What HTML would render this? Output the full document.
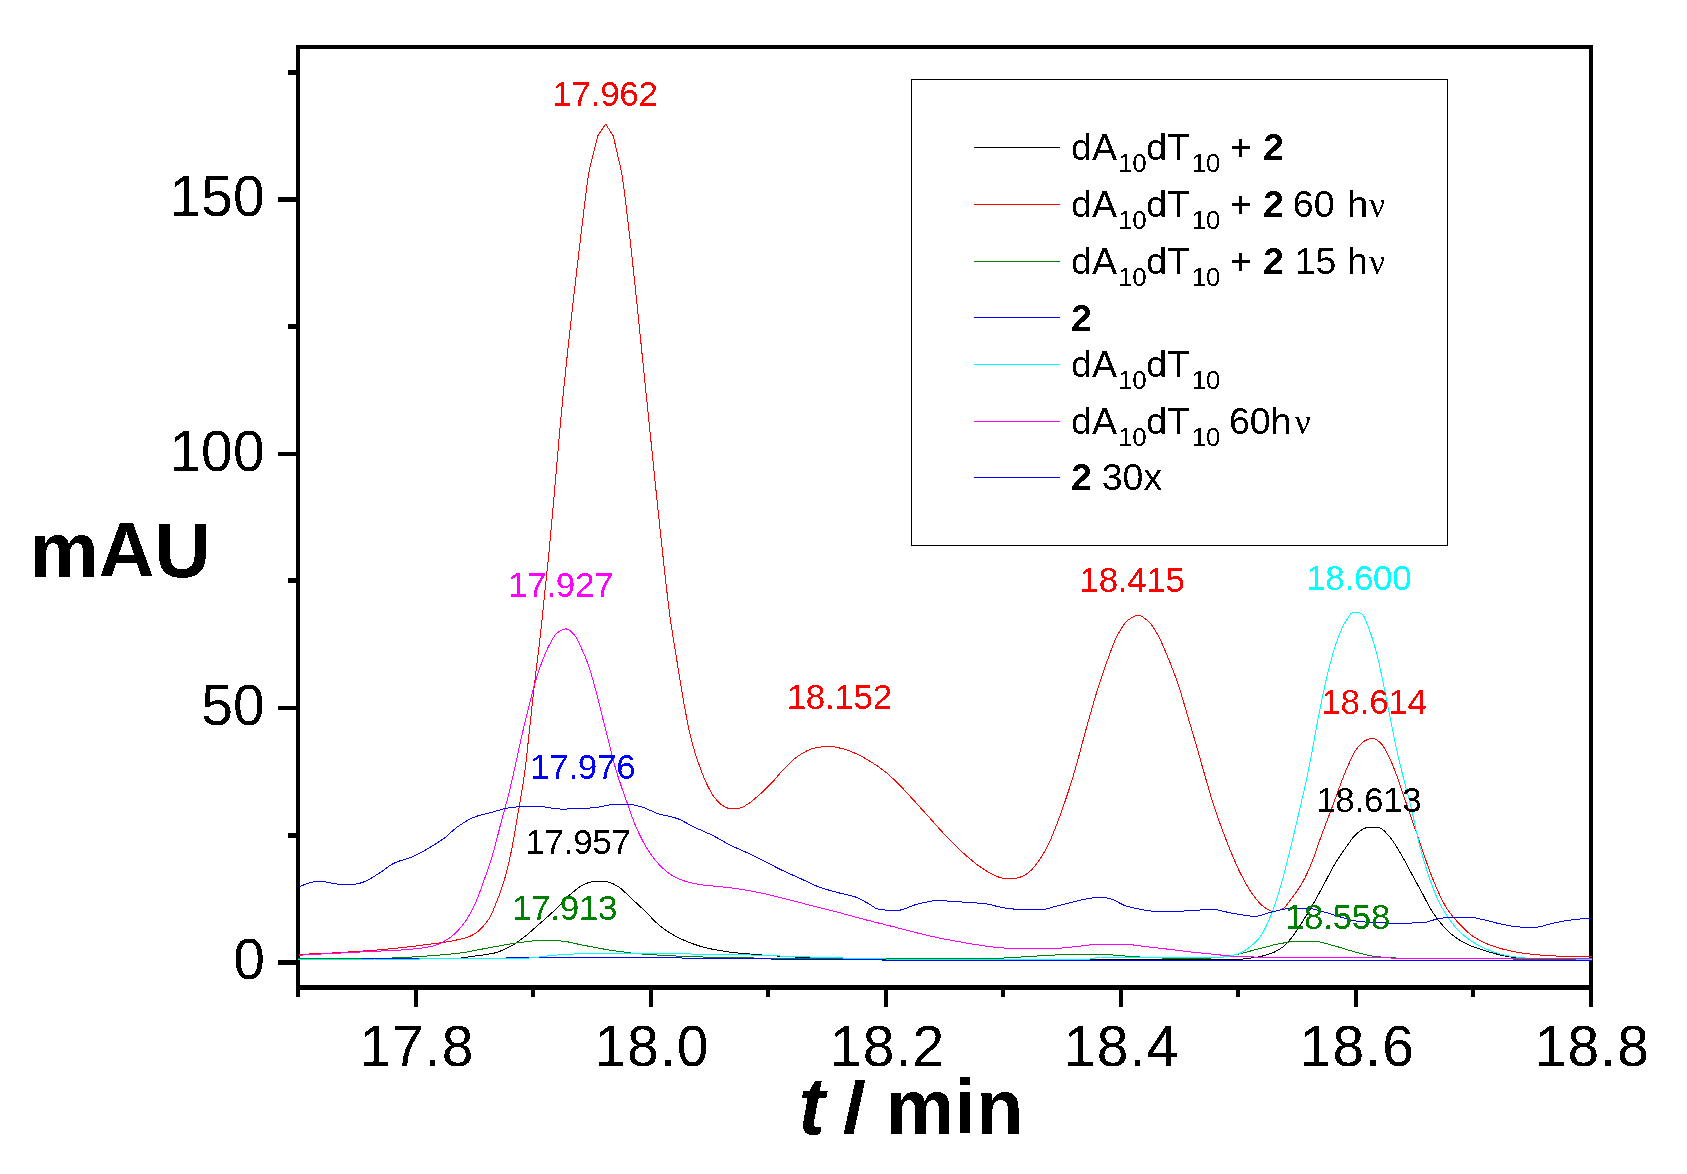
<!DOCTYPE html>
<html lang="en">
<head>
<meta charset="utf-8">
<title>HPLC chromatogram</title>
<style>
html,body{margin:0;padding:0;background:#fff;}
body{width:1687px;height:1174px;overflow:hidden;}
svg{display:block;}
text{font-family:"Liberation Sans",sans-serif;font-kerning:none;}
.ytick{font-size:57px;letter-spacing:0.2px;}
.xtick{font-size:57px;letter-spacing:1.1px;}
.pk{font-size:35px;letter-spacing:-0.3px;}
.lg{font-size:37.5px;}
.lgb{font-size:37.5px;font-weight:bold;}
.sub{font-size:26px;letter-spacing:-0.3px;}
.nu{font-size:35px;font-family:"Liberation Serif",serif;}
.ttl{font-size:77.5px;font-weight:bold;}
.ttl2{font-size:77px;font-weight:bold;letter-spacing:0.4px;}
.ttli{font-size:77px;font-weight:bold;font-style:italic;}
</style>
</head>
<body>
<svg width="1687" height="1174" viewBox="0 0 1687 1174">
<rect x="0" y="0" width="1687" height="1174" fill="#ffffff"/>
<defs>
<filter id="crisp" x="0" y="0" width="1687" height="1174" filterUnits="userSpaceOnUse" color-interpolation-filters="sRGB">
<feComponentTransfer><feFuncA type="discrete" tableValues="0 0 1 1"/></feComponentTransfer>
</filter>
</defs>
<g fill="#000" shape-rendering="crispEdges">
<rect x="296" y="45" width="1297" height="4"/>
<rect x="296" y="985" width="1297" height="5"/>
<rect x="296" y="45" width="4" height="945"/>
<rect x="1589" y="45" width="4" height="945"/>
<rect x="278" y="960" width="18" height="5"/>
<rect x="288" y="833" width="8" height="5"/>
<rect x="278" y="706" width="18" height="4"/>
<rect x="288" y="578" width="8" height="5"/>
<rect x="278" y="452" width="18" height="4"/>
<rect x="288" y="324" width="8" height="5"/>
<rect x="278" y="197" width="18" height="5"/>
<rect x="288" y="70" width="8" height="5"/>
<rect x="296" y="990" width="4" height="7"/>
<rect x="414" y="990" width="4" height="17"/>
<rect x="531" y="990" width="4" height="7"/>
<rect x="649" y="990" width="4" height="17"/>
<rect x="766" y="990" width="4" height="7"/>
<rect x="884" y="990" width="4" height="17"/>
<rect x="1001" y="990" width="4" height="7"/>
<rect x="1119" y="990" width="4" height="17"/>
<rect x="1236" y="990" width="4" height="7"/>
<rect x="1354" y="990" width="4" height="17"/>
<rect x="1471" y="990" width="4" height="7"/>
<rect x="1589" y="990" width="4" height="17"/>
</g>
<g fill="none" stroke-width="1" shape-rendering="crispEdges" stroke-linejoin="round">
<polyline stroke="#000000" points="298.0,958.5 299.5,958.5 301.0,958.5 302.5,958.5 304.0,958.5 305.5,958.5 307.0,958.5 308.5,958.5 310.0,958.5 311.5,958.5 313.0,958.5 314.5,958.5 316.0,958.5 317.5,958.5 319.0,958.5 320.5,958.5 322.0,958.5 323.5,958.5 325.0,958.5 326.5,958.5 328.0,958.5 329.5,958.5 331.0,958.5 332.5,958.5 334.0,958.5 335.5,958.5 337.0,958.5 338.5,958.5 340.0,958.5 341.5,958.5 343.0,958.5 344.5,958.5 346.0,958.5 347.5,958.5 349.0,958.5 350.5,958.5 352.0,958.5 353.5,958.5 355.0,958.5 356.5,958.5 358.0,958.5 359.5,958.5 361.0,958.5 362.5,958.5 364.0,958.5 365.5,958.5 367.0,958.5 368.5,958.5 370.0,958.5 371.5,958.5 373.0,958.5 374.5,958.5 376.0,958.5 377.5,958.4 379.0,958.4 380.5,958.4 382.0,958.4 383.5,958.4 385.0,958.4 386.5,958.4 388.0,958.4 389.5,958.4 391.0,958.4 392.5,958.4 394.0,958.4 395.5,958.4 397.0,958.4 398.5,958.4 400.0,958.4 401.5,958.4 403.0,958.4 404.5,958.4 406.0,958.4 407.5,958.4 409.0,958.4 410.5,958.4 412.0,958.4 413.5,958.4 415.0,958.4 416.5,958.4 418.0,958.4 419.5,958.4 421.0,958.3 422.5,958.3 424.0,958.3 425.5,958.3 427.0,958.3 428.5,958.3 430.0,958.3 431.5,958.3 433.0,958.3 434.5,958.3 436.0,958.3 437.5,958.3 439.0,958.3 440.5,958.3 442.0,958.3 443.5,958.3 445.0,958.3 446.5,958.2 448.0,958.2 449.5,958.2 451.0,958.2 452.5,958.2 454.0,958.2 455.5,958.2 457.0,958.2 458.5,958.2 460.0,958.1 461.5,958.0 463.0,957.8 464.5,957.6 466.0,957.4 467.5,957.1 469.0,956.9 470.5,956.7 472.0,956.4 473.5,956.2 475.0,956.0 476.5,955.8 478.0,955.6 479.5,955.4 481.0,955.2 482.5,955.1 484.0,954.9 485.5,954.7 487.0,954.4 488.5,954.2 490.0,953.9 491.5,953.7 493.0,953.4 494.5,953.0 496.0,952.6 497.5,952.1 499.0,951.6 500.5,951.0 502.0,950.4 503.5,949.7 505.0,949.0 506.5,948.3 508.0,947.6 509.5,946.8 511.0,946.0 512.5,945.2 514.0,944.3 515.5,943.4 517.0,942.4 518.5,941.3 520.0,940.2 521.5,939.1 523.0,937.9 524.5,936.8 526.0,935.6 527.5,934.4 529.0,933.1 530.5,931.8 532.0,930.5 533.5,929.2 535.0,927.8 536.5,926.5 538.0,925.2 539.5,923.8 541.0,922.5 542.5,921.2 544.0,919.9 545.5,918.5 547.0,917.2 548.5,915.9 550.0,914.5 551.5,913.1 553.0,911.8 554.5,910.3 556.0,908.9 557.5,907.4 559.0,905.9 560.5,904.3 562.0,902.7 563.5,901.1 565.0,899.5 566.5,898.0 568.0,896.5 569.5,895.1 571.0,893.8 572.5,892.6 574.0,891.3 575.5,890.1 577.0,888.9 578.5,887.8 580.0,886.7 581.5,885.7 583.0,884.8 584.5,884.1 586.0,883.5 587.5,883.0 589.0,882.6 590.5,882.1 592.0,881.8 593.5,881.5 595.0,881.3 596.5,881.3 598.0,881.3 599.5,881.4 601.0,881.4 602.5,881.5 604.0,881.6 605.5,881.7 607.0,881.8 608.5,882.1 610.0,882.5 611.5,883.1 613.0,883.8 614.5,884.6 616.0,885.5 617.5,886.3 619.0,887.2 620.5,888.3 622.0,889.5 623.5,890.9 625.0,892.3 626.5,893.7 628.0,895.2 629.5,896.6 631.0,898.1 632.5,899.4 634.0,900.8 635.5,902.2 637.0,903.6 638.5,905.0 640.0,906.4 641.5,907.8 643.0,909.2 644.5,910.7 646.0,912.1 647.5,913.6 649.0,915.1 650.5,916.7 652.0,918.3 653.5,919.9 655.0,921.4 656.5,922.8 658.0,924.2 659.5,925.4 661.0,926.7 662.5,927.8 664.0,929.0 665.5,930.1 667.0,931.1 668.5,932.1 670.0,933.0 671.5,933.9 673.0,934.8 674.5,935.6 676.0,936.4 677.5,937.2 679.0,937.9 680.5,938.6 682.0,939.3 683.5,940.0 685.0,940.6 686.5,941.3 688.0,941.9 689.5,942.5 691.0,943.1 692.5,943.6 694.0,944.2 695.5,944.7 697.0,945.2 698.5,945.7 700.0,946.2 701.5,946.6 703.0,947.0 704.5,947.4 706.0,947.8 707.5,948.1 709.0,948.4 710.5,948.8 712.0,949.1 713.5,949.4 715.0,949.7 716.5,950.0 718.0,950.2 719.5,950.5 721.0,950.8 722.5,951.0 724.0,951.2 725.5,951.5 727.0,951.7 728.5,951.9 730.0,952.1 731.5,952.3 733.0,952.4 734.5,952.6 736.0,952.8 737.5,952.9 739.0,953.1 740.5,953.2 742.0,953.4 743.5,953.5 745.0,953.6 746.5,953.8 748.0,953.9 749.5,954.0 751.0,954.1 752.5,954.3 754.0,954.4 755.5,954.5 757.0,954.6 758.5,954.7 760.0,954.8 761.5,954.9 763.0,955.1 764.5,955.2 766.0,955.3 767.5,955.4 769.0,955.5 770.5,955.6 772.0,955.7 773.5,955.8 775.0,955.9 776.5,956.0 778.0,956.1 779.5,956.2 781.0,956.3 782.5,956.4 784.0,956.5 785.5,956.5 787.0,956.6 788.5,956.7 790.0,956.8 791.5,956.8 793.0,956.9 794.5,957.0 796.0,957.0 797.5,957.1 799.0,957.2 800.5,957.2 802.0,957.3 803.5,957.4 805.0,957.4 806.5,957.5 808.0,957.6 809.5,957.6 811.0,957.7 812.5,957.8 814.0,957.8 815.5,957.9 817.0,957.9 818.5,958.0 820.0,958.0 821.5,958.1 823.0,958.2 824.5,958.2 826.0,958.3 827.5,958.3 829.0,958.3 830.5,958.4 832.0,958.4 833.5,958.5 835.0,958.5 836.5,958.5 838.0,958.6 839.5,958.6 841.0,958.6 842.5,958.7 844.0,958.7 845.5,958.7 847.0,958.7 848.5,958.7 850.0,958.7 851.5,958.8 853.0,958.8 854.5,958.8 856.0,958.8 857.5,958.8 859.0,958.8 860.5,958.8 862.0,958.9 863.5,958.9 865.0,958.9 866.5,958.9 868.0,958.9 869.5,958.9 871.0,958.9 872.5,958.9 874.0,959.0 875.5,959.0 877.0,959.0 878.5,959.0 880.0,959.0 881.5,959.0 883.0,959.0 884.5,959.0 886.0,959.1 887.5,959.1 889.0,959.1 890.5,959.1 892.0,959.1 893.5,959.1 895.0,959.1 896.5,959.1 898.0,959.1 899.5,959.2 901.0,959.2 902.5,959.2 904.0,959.2 905.5,959.2 907.0,959.2 908.5,959.2 910.0,959.2 911.5,959.2 913.0,959.2 914.5,959.2 916.0,959.3 917.5,959.3 919.0,959.3 920.5,959.3 922.0,959.3 923.5,959.3 925.0,959.3 926.5,959.3 928.0,959.3 929.5,959.3 931.0,959.3 932.5,959.3 934.0,959.3 935.5,959.4 937.0,959.4 938.5,959.4 940.0,959.4 941.5,959.4 943.0,959.4 944.5,959.4 946.0,959.4 947.5,959.4 949.0,959.4 950.5,959.4 952.0,959.4 953.5,959.4 955.0,959.4 956.5,959.4 958.0,959.4 959.5,959.4 961.0,959.4 962.5,959.5 964.0,959.5 965.5,959.5 967.0,959.5 968.5,959.5 970.0,959.5 971.5,959.5 973.0,959.5 974.5,959.5 976.0,959.5 977.5,959.5 979.0,959.5 980.5,959.5 982.0,959.5 983.5,959.5 985.0,959.5 986.5,959.5 988.0,959.5 989.5,959.5 991.0,959.5 992.5,959.5 994.0,959.5 995.5,959.5 997.0,959.5 998.5,959.5 1000.0,959.5 1001.5,959.5 1003.0,959.5 1004.5,959.5 1006.0,959.5 1007.5,959.5 1009.0,959.5 1010.5,959.5 1012.0,959.5 1013.5,959.5 1015.0,959.5 1016.5,959.5 1018.0,959.5 1019.5,959.5 1021.0,959.5 1022.5,959.5 1024.0,959.5 1025.5,959.5 1027.0,959.5 1028.5,959.5 1030.0,959.5 1031.5,959.5 1033.0,959.5 1034.5,959.5 1036.0,959.5 1037.5,959.5 1039.0,959.5 1040.5,959.5 1042.0,959.5 1043.5,959.5 1045.0,959.5 1046.5,959.5 1048.0,959.5 1049.5,959.5 1051.0,959.5 1052.5,959.5 1054.0,959.5 1055.5,959.5 1057.0,959.5 1058.5,959.5 1060.0,959.5 1061.5,959.5 1063.0,959.5 1064.5,959.5 1066.0,959.5 1067.5,959.5 1069.0,959.5 1070.5,959.5 1072.0,959.5 1073.5,959.5 1075.0,959.5 1076.5,959.5 1078.0,959.5 1079.5,959.5 1081.0,959.5 1082.5,959.5 1084.0,959.5 1085.5,959.5 1087.0,959.5 1088.5,959.5 1090.0,959.5 1091.5,959.5 1093.0,959.5 1094.5,959.5 1096.0,959.5 1097.5,959.5 1099.0,959.5 1100.5,959.5 1102.0,959.5 1103.5,959.5 1105.0,959.5 1106.5,959.5 1108.0,959.5 1109.5,959.5 1111.0,959.5 1112.5,959.5 1114.0,959.5 1115.5,959.5 1117.0,959.5 1118.5,959.5 1120.0,959.5 1121.5,959.5 1123.0,959.5 1124.5,959.5 1126.0,959.5 1127.5,959.5 1129.0,959.5 1130.5,959.5 1132.0,959.5 1133.5,959.5 1135.0,959.5 1136.5,959.5 1138.0,959.5 1139.5,959.5 1141.0,959.5 1142.5,959.4 1144.0,959.4 1145.5,959.4 1147.0,959.4 1148.5,959.4 1150.0,959.4 1151.5,959.4 1153.0,959.4 1154.5,959.4 1156.0,959.4 1157.5,959.4 1159.0,959.4 1160.5,959.4 1162.0,959.4 1163.5,959.4 1165.0,959.4 1166.5,959.4 1168.0,959.4 1169.5,959.4 1171.0,959.4 1172.5,959.4 1174.0,959.4 1175.5,959.4 1177.0,959.4 1178.5,959.4 1180.0,959.4 1181.5,959.4 1183.0,959.4 1184.5,959.4 1186.0,959.4 1187.5,959.4 1189.0,959.4 1190.5,959.4 1192.0,959.4 1193.5,959.4 1195.0,959.4 1196.5,959.4 1198.0,959.4 1199.5,959.4 1201.0,959.4 1202.5,959.4 1204.0,959.4 1205.5,959.4 1207.0,959.4 1208.5,959.4 1210.0,959.4 1211.5,959.4 1213.0,959.4 1214.5,959.3 1216.0,959.3 1217.5,959.3 1219.0,959.3 1220.5,959.3 1222.0,959.3 1223.5,959.3 1225.0,959.3 1226.5,959.3 1228.0,959.3 1229.5,959.3 1231.0,959.3 1232.5,959.3 1234.0,959.3 1235.5,959.3 1237.0,959.3 1238.5,959.3 1240.0,959.2 1241.5,959.1 1243.0,959.0 1244.5,958.9 1246.0,958.7 1247.5,958.5 1249.0,958.3 1250.5,958.1 1252.0,957.9 1253.5,957.7 1255.0,957.5 1256.5,957.3 1258.0,957.0 1259.5,956.7 1261.0,956.4 1262.5,956.0 1264.0,955.6 1265.5,955.2 1267.0,954.8 1268.5,954.3 1270.0,953.8 1271.5,953.3 1273.0,952.7 1274.5,952.0 1276.0,951.2 1277.5,950.4 1279.0,949.5 1280.5,948.5 1282.0,947.5 1283.5,946.4 1285.0,945.1 1286.5,943.7 1288.0,942.0 1289.5,940.3 1291.0,938.4 1292.5,936.5 1294.0,934.6 1295.5,932.4 1297.0,930.2 1298.5,927.9 1300.0,925.5 1301.5,923.2 1303.0,920.8 1304.5,918.4 1306.0,916.0 1307.5,913.6 1309.0,911.1 1310.5,908.6 1312.0,906.0 1313.5,903.4 1315.0,900.8 1316.5,898.1 1318.0,895.4 1319.5,892.6 1321.0,889.8 1322.5,887.0 1324.0,884.2 1325.5,881.4 1327.0,878.6 1328.5,875.7 1330.0,872.9 1331.5,870.1 1333.0,867.3 1334.5,864.7 1336.0,862.2 1337.5,859.8 1339.0,857.4 1340.5,855.2 1342.0,852.9 1343.5,850.8 1345.0,848.7 1346.5,846.6 1348.0,844.5 1349.5,842.4 1351.0,840.3 1352.5,838.3 1354.0,836.4 1355.5,834.8 1357.0,833.5 1358.5,832.3 1360.0,831.2 1361.5,830.1 1363.0,829.1 1364.5,828.4 1366.0,827.8 1367.5,827.6 1369.0,827.6 1370.5,827.6 1372.0,827.6 1373.5,827.6 1375.0,827.6 1376.5,827.6 1378.0,827.6 1379.5,827.7 1381.0,828.3 1382.5,829.3 1384.0,830.6 1385.5,832.2 1387.0,833.8 1388.5,835.5 1390.0,837.1 1391.5,839.0 1393.0,841.1 1394.5,843.4 1396.0,845.8 1397.5,848.3 1399.0,850.8 1400.5,853.3 1402.0,855.9 1403.5,858.6 1405.0,861.3 1406.5,864.2 1408.0,867.0 1409.5,869.8 1411.0,872.5 1412.5,875.3 1414.0,878.0 1415.5,880.8 1417.0,883.5 1418.5,886.3 1420.0,889.0 1421.5,891.8 1423.0,894.6 1424.5,897.5 1426.0,900.4 1427.5,903.3 1429.0,906.1 1430.5,908.7 1432.0,911.1 1433.5,913.4 1435.0,915.6 1436.5,917.7 1438.0,919.7 1439.5,921.6 1441.0,923.4 1442.5,925.2 1444.0,926.8 1445.5,928.4 1447.0,930.0 1448.5,931.4 1450.0,932.9 1451.5,934.2 1453.0,935.5 1454.5,936.6 1456.0,937.7 1457.5,938.7 1459.0,939.7 1460.5,940.6 1462.0,941.5 1463.5,942.3 1465.0,943.1 1466.5,943.8 1468.0,944.5 1469.5,945.2 1471.0,945.9 1472.5,946.5 1474.0,947.0 1475.5,947.6 1477.0,948.1 1478.5,948.6 1480.0,949.1 1481.5,949.6 1483.0,950.1 1484.5,950.5 1486.0,951.0 1487.5,951.5 1489.0,952.0 1490.5,952.4 1492.0,952.8 1493.5,953.3 1495.0,953.7 1496.5,954.0 1498.0,954.4 1499.5,954.8 1501.0,955.1 1502.5,955.5 1504.0,955.8 1505.5,956.1 1507.0,956.4 1508.5,956.7 1510.0,956.9 1511.5,957.1 1513.0,957.2 1514.5,957.4 1516.0,957.5 1517.5,957.7 1519.0,957.8 1520.5,957.9 1522.0,958.1 1523.5,958.2 1525.0,958.3 1526.5,958.4 1528.0,958.5 1529.5,958.6 1531.0,958.7 1532.5,958.7 1534.0,958.8 1535.5,958.9 1537.0,958.9 1538.5,959.0 1540.0,959.0 1541.5,959.0 1543.0,959.1 1544.5,959.1 1546.0,959.1 1547.5,959.1 1549.0,959.2 1550.5,959.2 1552.0,959.2 1553.5,959.2 1555.0,959.2 1556.5,959.3 1558.0,959.3 1559.5,959.3 1561.0,959.3 1562.5,959.3 1564.0,959.3 1565.5,959.4 1567.0,959.4 1568.5,959.4 1570.0,959.4 1571.5,959.4 1573.0,959.4 1574.5,959.4 1576.0,959.5 1577.5,959.5 1579.0,959.5 1580.5,959.5 1582.0,959.5 1583.5,959.5 1585.0,959.5 1586.5,959.5 1588.0,959.5 1589.5,959.5 1591.0,959.5 1591.5,959.5"/>
<polyline stroke="#ff0000" points="298.7,954.3 300.2,954.3 301.7,954.2 303.2,954.2 304.7,954.1 306.2,954.1 307.7,954.0 309.2,954.0 310.7,953.9 312.2,953.9 313.7,953.8 315.2,953.8 316.7,953.7 318.2,953.6 319.7,953.6 321.2,953.5 322.7,953.4 324.2,953.3 325.7,953.3 327.2,953.2 328.7,953.1 330.2,953.0 331.7,953.0 333.2,952.9 334.7,952.8 336.2,952.7 337.7,952.6 339.2,952.5 340.7,952.5 342.2,952.4 343.7,952.3 345.2,952.2 346.7,952.1 348.2,952.0 349.7,951.9 351.2,951.8 352.7,951.7 354.2,951.6 355.7,951.5 357.2,951.4 358.7,951.3 360.2,951.2 361.7,951.1 363.2,951.0 364.7,950.9 366.2,950.8 367.7,950.7 369.2,950.6 370.7,950.5 372.2,950.4 373.7,950.2 375.2,950.1 376.7,950.0 378.2,949.9 379.7,949.8 381.2,949.6 382.7,949.5 384.2,949.4 385.7,949.2 387.2,949.1 388.7,948.9 390.2,948.8 391.7,948.7 393.2,948.5 394.7,948.3 396.2,948.2 397.7,948.0 399.2,947.9 400.7,947.7 402.2,947.6 403.7,947.4 405.2,947.2 406.7,947.0 408.2,946.9 409.7,946.7 411.2,946.5 412.7,946.3 414.2,946.2 415.7,946.0 417.2,945.8 418.7,945.6 420.2,945.4 421.7,945.2 423.2,945.0 424.7,944.9 426.2,944.7 427.7,944.5 429.2,944.3 430.7,944.1 432.2,943.9 433.7,943.7 435.2,943.5 436.7,943.3 438.2,943.1 439.7,942.9 441.2,942.7 442.7,942.5 444.2,942.2 445.7,942.0 447.2,941.8 448.7,941.5 450.2,941.2 451.7,941.0 453.2,940.7 454.7,940.4 456.2,940.1 457.7,939.7 459.2,939.4 460.7,939.1 462.2,938.7 463.7,938.3 465.2,937.9 466.7,937.5 468.2,936.9 469.7,936.3 471.2,935.7 472.7,934.9 474.2,934.1 475.7,933.2 477.2,932.1 478.7,930.7 480.2,929.2 481.7,927.7 483.2,926.1 484.7,924.5 486.2,922.7 487.7,920.7 489.2,918.5 490.7,915.8 492.2,912.6 493.7,909.1 495.2,905.4 496.7,901.7 498.2,897.9 499.7,893.9 501.2,889.7 502.7,885.3 504.2,880.4 505.7,875.0 507.2,869.2 508.7,863.0 510.2,856.4 511.7,849.3 513.2,841.4 514.7,832.9 516.2,824.1 517.7,815.3 519.2,806.6 520.7,797.9 522.2,788.9 523.7,779.2 525.2,768.5 526.7,755.9 528.2,741.8 529.7,727.7 531.2,714.0 532.7,700.3 534.2,686.8 535.7,673.7 537.2,661.4 538.7,649.4 540.2,636.9 541.7,623.0 543.2,607.8 544.7,592.9 546.2,579.0 547.7,564.9 549.2,549.8 550.7,533.9 552.2,517.3 553.7,500.3 555.2,483.1 556.7,465.8 558.2,448.6 559.7,431.7 561.2,415.3 562.7,399.6 564.2,384.6 565.7,370.0 567.2,355.8 568.7,341.9 570.2,328.2 571.7,314.8 573.2,301.5 574.7,288.3 576.2,275.2 577.7,262.2 579.2,249.5 580.7,237.0 582.2,224.8 583.7,212.1 585.2,199.2 586.7,187.0 588.2,176.2 589.7,168.5 591.2,162.4 592.7,156.3 594.2,150.2 595.7,144.1 597.2,138.0 597.7,136.0 598.7,134.5 600.2,132.2 601.7,130.0 603.2,127.8 604.7,125.5 605.7,124.0 606.2,124.8 607.7,127.2 609.2,129.5 610.7,131.9 612.2,134.3 613.3,136.0 613.7,137.7 615.2,144.3 616.7,150.8 618.2,157.4 619.7,163.9 621.2,170.5 622.7,179.6 624.2,190.7 625.7,202.8 627.2,215.5 628.7,228.1 630.2,241.0 631.7,254.4 633.2,268.2 634.7,282.1 636.2,296.4 637.7,310.9 639.2,325.6 640.7,340.4 642.2,355.3 643.7,370.1 645.2,384.8 646.7,399.3 648.2,413.9 649.7,428.6 651.2,443.3 652.7,458.1 654.2,472.8 655.7,487.4 657.2,501.9 658.7,516.3 660.2,530.5 661.7,544.5 663.2,558.2 664.7,571.8 666.2,585.4 667.7,598.5 669.2,610.7 670.7,621.6 672.2,631.6 673.7,641.1 675.2,650.3 676.7,659.6 678.2,669.0 679.7,678.3 681.2,687.5 682.7,696.4 684.2,704.7 685.7,712.9 687.2,720.9 688.7,728.4 690.2,735.2 691.7,741.2 693.2,746.6 694.7,751.7 696.2,756.4 697.7,760.8 699.2,765.1 700.7,769.2 702.2,773.2 703.7,777.0 705.2,780.6 706.7,783.9 708.2,786.9 709.7,789.8 711.2,792.5 712.7,795.0 714.2,797.1 715.7,798.9 717.2,800.7 718.7,802.4 720.2,803.8 721.7,805.0 723.2,805.9 724.7,806.7 726.2,807.5 727.7,808.1 729.2,808.4 730.7,808.5 732.2,808.5 733.7,808.4 735.2,808.4 736.7,808.3 738.2,808.2 739.7,808.0 741.2,807.6 742.7,807.0 744.2,806.3 745.7,805.4 747.2,804.5 748.7,803.6 750.2,802.5 751.7,801.4 753.2,800.1 754.7,798.8 756.2,797.5 757.7,796.2 759.2,794.9 760.7,793.6 762.2,792.2 763.7,790.8 765.2,789.4 766.7,788.0 768.2,786.5 769.7,785.0 771.2,783.5 772.7,781.9 774.2,780.2 775.7,778.4 777.2,776.6 778.7,774.8 780.2,773.1 781.7,771.4 783.2,769.8 784.7,768.3 786.2,766.7 787.7,765.2 789.2,763.7 790.7,762.3 792.2,760.9 793.7,759.5 795.2,758.3 796.7,757.1 798.2,756.0 799.7,755.0 801.2,754.1 802.7,753.2 804.2,752.3 805.7,751.5 807.2,750.7 808.7,750.0 810.2,749.3 811.7,748.8 813.2,748.4 814.7,748.1 816.2,747.8 817.7,747.5 819.2,747.2 820.7,747.0 822.2,746.8 823.7,746.6 825.2,746.5 826.7,746.4 828.2,746.4 829.7,746.4 831.2,746.5 832.7,746.7 834.2,746.9 835.7,747.2 837.2,747.5 838.7,747.8 840.2,748.2 841.7,748.5 843.2,748.8 844.7,749.2 846.2,749.7 847.7,750.2 849.2,750.8 850.7,751.4 852.2,752.0 853.7,752.7 855.2,753.3 856.7,754.0 858.2,754.7 859.7,755.4 861.2,756.2 862.7,757.0 864.2,757.9 865.7,758.8 867.2,759.7 868.7,760.6 870.2,761.5 871.7,762.4 873.2,763.3 874.7,764.3 876.2,765.2 877.7,766.2 879.2,767.2 880.7,768.3 882.2,769.4 883.7,770.5 885.2,771.7 886.7,773.0 888.2,774.3 889.7,775.7 891.2,777.0 892.7,778.4 894.2,779.9 895.7,781.3 897.2,782.8 898.7,784.3 900.2,785.8 901.7,787.3 903.2,788.9 904.7,790.5 906.2,792.1 907.7,793.7 909.2,795.3 910.7,797.0 912.2,798.6 913.7,800.3 915.2,801.9 916.7,803.6 918.2,805.3 919.7,806.9 921.2,808.6 922.7,810.2 924.2,811.8 925.7,813.5 927.2,815.1 928.7,816.8 930.2,818.5 931.7,820.2 933.2,821.9 934.7,823.5 936.2,825.2 937.7,826.9 939.2,828.6 940.7,830.2 942.2,831.9 943.7,833.5 945.2,835.1 946.7,836.7 948.2,838.3 949.7,839.8 951.2,841.3 952.7,842.8 954.2,844.3 955.7,845.8 957.2,847.3 958.7,848.7 960.2,850.1 961.7,851.5 963.2,852.9 964.7,854.3 966.2,855.6 967.7,856.9 969.2,858.2 970.7,859.4 972.2,860.7 973.7,861.9 975.2,863.1 976.7,864.3 978.2,865.4 979.7,866.5 981.2,867.5 982.7,868.5 984.2,869.5 985.7,870.5 987.2,871.4 988.7,872.3 990.2,873.2 991.7,873.9 993.2,874.7 994.7,875.3 996.2,876.0 997.7,876.7 999.2,877.3 1000.7,877.8 1002.2,878.1 1003.7,878.2 1005.2,878.3 1006.7,878.3 1008.2,878.3 1009.7,878.4 1011.2,878.4 1012.7,878.4 1014.2,878.4 1015.7,878.3 1017.2,878.0 1018.7,877.6 1020.2,877.1 1021.7,876.6 1023.2,876.0 1024.7,875.2 1026.2,874.2 1027.7,873.1 1029.2,871.9 1030.7,870.7 1032.2,869.2 1033.7,867.5 1035.2,865.6 1036.7,863.6 1038.2,861.6 1039.7,859.4 1041.2,857.2 1042.7,854.8 1044.2,852.3 1045.7,849.7 1047.2,846.9 1048.7,843.9 1050.2,840.6 1051.7,837.1 1053.2,833.4 1054.7,829.6 1056.2,825.8 1057.7,821.9 1059.2,817.9 1060.7,813.8 1062.2,809.6 1063.7,805.3 1065.2,801.0 1066.7,796.5 1068.2,792.0 1069.7,787.3 1071.2,782.6 1072.7,777.7 1074.2,772.7 1075.7,767.6 1077.2,762.2 1078.7,756.7 1080.2,751.1 1081.7,745.4 1083.2,739.8 1084.7,734.2 1086.2,728.8 1087.7,723.4 1089.2,718.0 1090.7,712.7 1092.2,707.4 1093.7,702.2 1095.2,697.1 1096.7,692.3 1098.2,687.5 1099.7,682.8 1101.2,678.2 1102.7,673.7 1104.2,669.3 1105.7,665.0 1107.2,660.9 1108.7,656.8 1110.2,652.7 1111.7,648.6 1113.2,644.8 1114.7,641.1 1116.2,637.8 1117.7,634.9 1119.2,632.2 1120.7,629.6 1122.2,627.1 1123.7,624.9 1125.2,622.9 1126.7,621.2 1128.2,620.0 1129.7,619.0 1131.2,618.0 1132.7,617.1 1134.2,616.4 1135.7,615.9 1137.2,615.6 1138.7,615.5 1140.2,615.8 1141.7,616.4 1143.2,617.3 1144.7,618.3 1146.2,619.4 1147.7,620.6 1149.2,621.9 1150.7,623.6 1152.2,625.7 1153.7,628.0 1155.2,630.4 1156.7,633.0 1158.2,635.6 1159.7,638.5 1161.2,641.7 1162.7,645.0 1164.2,648.5 1165.7,652.1 1167.2,655.6 1168.7,659.3 1170.2,663.0 1171.7,666.8 1173.2,670.7 1174.7,674.7 1176.2,678.9 1177.7,683.1 1179.2,687.6 1180.7,692.3 1182.2,697.3 1183.7,702.4 1185.2,707.6 1186.7,712.8 1188.2,717.9 1189.7,723.0 1191.2,728.0 1192.7,733.0 1194.2,738.1 1195.7,743.1 1197.2,748.3 1198.7,753.5 1200.2,758.9 1201.7,764.3 1203.2,769.7 1204.7,774.9 1206.2,780.2 1207.7,785.4 1209.2,790.5 1210.7,795.6 1212.2,800.5 1213.7,805.2 1215.2,809.7 1216.7,814.1 1218.2,818.5 1219.7,822.7 1221.2,826.8 1222.7,830.9 1224.2,834.9 1225.7,838.8 1227.2,842.6 1228.7,846.3 1230.2,850.1 1231.7,853.7 1233.2,857.3 1234.7,860.9 1236.2,864.3 1237.7,867.6 1239.2,870.8 1240.7,873.8 1242.2,876.7 1243.7,879.6 1245.2,882.4 1246.7,885.1 1248.2,887.6 1249.7,890.1 1251.2,892.4 1252.7,894.5 1254.2,896.5 1255.7,898.4 1257.2,900.3 1258.7,902.0 1260.2,903.6 1261.7,905.1 1263.2,906.3 1264.7,907.4 1266.2,908.4 1267.7,909.4 1269.2,910.3 1270.7,910.9 1272.2,911.3 1273.7,911.3 1275.2,911.1 1276.7,910.8 1278.2,910.5 1279.7,910.0 1281.2,909.5 1282.7,908.8 1284.2,907.7 1285.7,906.2 1287.2,904.4 1288.7,902.4 1290.2,900.3 1291.7,898.2 1293.2,896.2 1294.7,894.2 1296.2,892.1 1297.7,890.0 1299.2,887.7 1300.7,885.3 1302.2,882.8 1303.7,880.2 1305.2,877.3 1306.7,874.2 1308.2,870.9 1309.7,867.5 1311.2,863.9 1312.7,860.2 1314.2,856.2 1315.7,852.0 1317.2,847.7 1318.7,843.3 1320.2,839.0 1321.7,834.8 1323.2,830.8 1324.7,826.8 1326.2,822.8 1327.7,818.9 1329.2,815.0 1330.7,811.0 1332.2,807.1 1333.7,803.0 1335.2,798.9 1336.7,794.8 1338.2,790.6 1339.7,786.5 1341.2,782.4 1342.7,778.5 1344.2,774.7 1345.7,771.1 1347.2,767.7 1348.7,764.3 1350.2,760.9 1351.7,757.6 1353.2,754.6 1354.7,751.8 1356.2,749.5 1357.7,747.6 1359.2,745.8 1360.7,744.1 1362.2,742.7 1363.7,741.5 1365.2,740.6 1366.7,739.9 1368.2,739.4 1369.7,738.9 1371.2,738.5 1372.7,738.4 1374.2,738.6 1375.7,739.2 1377.2,740.2 1378.7,741.3 1380.2,742.6 1381.7,744.2 1383.2,746.3 1384.7,748.7 1386.2,751.4 1387.7,754.1 1389.2,757.2 1390.7,760.5 1392.2,764.0 1393.7,767.7 1395.2,771.5 1396.7,775.5 1398.2,779.7 1399.7,784.0 1401.2,788.4 1402.7,792.8 1404.2,797.3 1405.7,801.7 1407.2,806.1 1408.7,810.4 1410.2,814.7 1411.7,819.0 1413.2,823.3 1414.7,827.6 1416.2,831.9 1417.7,836.2 1419.2,840.5 1420.7,844.8 1422.2,849.2 1423.7,853.7 1425.2,858.2 1426.7,862.6 1428.2,866.9 1429.7,871.1 1431.2,875.0 1432.7,878.8 1434.2,882.4 1435.7,886.0 1437.2,889.5 1438.7,892.8 1440.2,896.1 1441.7,899.2 1443.2,902.1 1444.7,904.9 1446.2,907.4 1447.7,909.7 1449.2,911.9 1450.7,913.9 1452.2,915.8 1453.7,917.6 1455.2,919.4 1456.7,921.0 1458.2,922.6 1459.7,924.2 1461.2,925.8 1462.7,927.3 1464.2,928.8 1465.7,930.2 1467.2,931.6 1468.7,932.9 1470.2,934.1 1471.7,935.3 1473.2,936.4 1474.7,937.4 1476.2,938.3 1477.7,939.2 1479.2,940.1 1480.7,940.9 1482.2,941.6 1483.7,942.3 1485.2,943.0 1486.7,943.7 1488.2,944.3 1489.7,944.9 1491.2,945.5 1492.7,946.0 1494.2,946.5 1495.7,947.0 1497.2,947.5 1498.7,947.9 1500.2,948.3 1501.7,948.8 1503.2,949.2 1504.7,949.5 1506.2,949.9 1507.7,950.3 1509.2,950.6 1510.7,950.9 1512.2,951.2 1513.7,951.5 1515.2,951.8 1516.7,952.1 1518.2,952.3 1519.7,952.6 1521.2,952.8 1522.7,953.1 1524.2,953.3 1525.7,953.5 1527.2,953.7 1528.7,953.9 1530.2,954.0 1531.7,954.2 1533.2,954.3 1534.7,954.5 1536.2,954.6 1537.7,954.8 1539.2,954.9 1540.7,955.1 1542.2,955.2 1543.7,955.3 1545.2,955.4 1546.7,955.5 1548.2,955.6 1549.7,955.7 1551.2,955.8 1552.7,955.9 1554.2,955.9 1555.7,956.0 1557.2,956.0 1558.7,956.1 1560.2,956.1 1561.7,956.2 1563.2,956.2 1564.7,956.2 1566.2,956.3 1567.7,956.3 1569.2,956.3 1570.7,956.4 1572.2,956.4 1573.7,956.4 1575.2,956.5 1576.7,956.5 1578.2,956.5 1579.7,956.5 1581.2,956.5 1582.7,956.6 1584.2,956.6 1585.7,956.6 1587.2,956.6 1588.7,956.6 1590.2,956.6 1591.5,956.6"/>
<polyline stroke="#008000" points="298.0,958.5 299.5,958.5 301.0,958.5 302.5,958.5 304.0,958.5 305.5,958.5 307.0,958.5 308.5,958.5 310.0,958.5 311.5,958.5 313.0,958.5 314.5,958.5 316.0,958.5 317.5,958.5 319.0,958.5 320.5,958.5 322.0,958.5 323.5,958.5 325.0,958.5 326.5,958.5 328.0,958.5 329.5,958.5 331.0,958.5 332.5,958.5 334.0,958.4 335.5,958.4 337.0,958.4 338.5,958.4 340.0,958.4 341.5,958.4 343.0,958.4 344.5,958.4 346.0,958.4 347.5,958.4 349.0,958.4 350.5,958.4 352.0,958.4 353.5,958.4 355.0,958.4 356.5,958.4 358.0,958.4 359.5,958.3 361.0,958.3 362.5,958.3 364.0,958.3 365.5,958.3 367.0,958.3 368.5,958.3 370.0,958.3 371.5,958.3 373.0,958.3 374.5,958.3 376.0,958.2 377.5,958.2 379.0,958.2 380.5,958.2 382.0,958.2 383.5,958.2 385.0,958.2 386.5,958.1 388.0,958.1 389.5,958.1 391.0,958.0 392.5,958.0 394.0,957.9 395.5,957.8 397.0,957.8 398.5,957.7 400.0,957.6 401.5,957.6 403.0,957.5 404.5,957.4 406.0,957.3 407.5,957.2 409.0,957.1 410.5,957.1 412.0,957.0 413.5,956.9 415.0,956.8 416.5,956.7 418.0,956.6 419.5,956.5 421.0,956.4 422.5,956.3 424.0,956.2 425.5,956.1 427.0,956.0 428.5,955.9 430.0,955.8 431.5,955.7 433.0,955.6 434.5,955.5 436.0,955.4 437.5,955.3 439.0,955.1 440.5,955.0 442.0,954.9 443.5,954.8 445.0,954.6 446.5,954.5 448.0,954.3 449.5,954.2 451.0,954.0 452.5,953.9 454.0,953.7 455.5,953.6 457.0,953.4 458.5,953.2 460.0,953.0 461.5,952.8 463.0,952.6 464.5,952.4 466.0,952.1 467.5,951.9 469.0,951.6 470.5,951.3 472.0,951.1 473.5,950.8 475.0,950.5 476.5,950.2 478.0,949.9 479.5,949.6 481.0,949.3 482.5,949.0 484.0,948.7 485.5,948.4 487.0,948.2 488.5,947.9 490.0,947.6 491.5,947.3 493.0,947.1 494.5,946.8 496.0,946.5 497.5,946.3 499.0,946.0 500.5,945.7 502.0,945.4 503.5,945.2 505.0,944.9 506.5,944.6 508.0,944.4 509.5,944.1 511.0,943.9 512.5,943.6 514.0,943.4 515.5,943.2 517.0,942.9 518.5,942.7 520.0,942.6 521.5,942.4 523.0,942.2 524.5,942.0 526.0,941.8 527.5,941.6 529.0,941.4 530.5,941.2 532.0,941.0 533.5,940.8 535.0,940.7 536.5,940.5 538.0,940.4 539.5,940.3 541.0,940.2 542.5,940.1 544.0,940.0 545.5,940.0 547.0,940.0 548.5,940.0 550.0,940.1 551.5,940.2 553.0,940.3 554.5,940.4 556.0,940.5 557.5,940.7 559.0,940.8 560.5,941.0 562.0,941.1 563.5,941.3 565.0,941.5 566.5,941.7 568.0,941.9 569.5,942.2 571.0,942.5 572.5,942.8 574.0,943.2 575.5,943.5 577.0,943.9 578.5,944.2 580.0,944.5 581.5,944.9 583.0,945.2 584.5,945.4 586.0,945.7 587.5,946.0 589.0,946.3 590.5,946.6 592.0,946.9 593.5,947.1 595.0,947.4 596.5,947.7 598.0,948.0 599.5,948.2 601.0,948.5 602.5,948.8 604.0,949.1 605.5,949.3 607.0,949.6 608.5,949.9 610.0,950.1 611.5,950.3 613.0,950.6 614.5,950.8 616.0,951.0 617.5,951.2 619.0,951.4 620.5,951.6 622.0,951.8 623.5,952.0 625.0,952.2 626.5,952.4 628.0,952.6 629.5,952.8 631.0,953.0 632.5,953.1 634.0,953.3 635.5,953.4 637.0,953.6 638.5,953.7 640.0,953.8 641.5,954.0 643.0,954.1 644.5,954.2 646.0,954.3 647.5,954.4 649.0,954.5 650.5,954.6 652.0,954.7 653.5,954.8 655.0,954.9 656.5,955.0 658.0,955.1 659.5,955.2 661.0,955.3 662.5,955.3 664.0,955.4 665.5,955.5 667.0,955.6 668.5,955.7 670.0,955.7 671.5,955.8 673.0,955.9 674.5,955.9 676.0,956.0 677.5,956.0 679.0,956.1 680.5,956.2 682.0,956.2 683.5,956.3 685.0,956.3 686.5,956.4 688.0,956.4 689.5,956.5 691.0,956.6 692.5,956.6 694.0,956.7 695.5,956.7 697.0,956.8 698.5,956.8 700.0,956.9 701.5,956.9 703.0,957.0 704.5,957.0 706.0,957.1 707.5,957.1 709.0,957.2 710.5,957.2 712.0,957.3 713.5,957.3 715.0,957.3 716.5,957.4 718.0,957.4 719.5,957.5 721.0,957.5 722.5,957.5 724.0,957.6 725.5,957.6 727.0,957.6 728.5,957.6 730.0,957.7 731.5,957.7 733.0,957.7 734.5,957.7 736.0,957.8 737.5,957.8 739.0,957.8 740.5,957.8 742.0,957.8 743.5,957.8 745.0,957.9 746.5,957.9 748.0,957.9 749.5,957.9 751.0,957.9 752.5,957.9 754.0,958.0 755.5,958.0 757.0,958.0 758.5,958.0 760.0,958.0 761.5,958.0 763.0,958.0 764.5,958.1 766.0,958.1 767.5,958.1 769.0,958.1 770.5,958.1 772.0,958.1 773.5,958.1 775.0,958.1 776.5,958.2 778.0,958.2 779.5,958.2 781.0,958.2 782.5,958.2 784.0,958.2 785.5,958.2 787.0,958.2 788.5,958.3 790.0,958.3 791.5,958.3 793.0,958.3 794.5,958.3 796.0,958.3 797.5,958.3 799.0,958.3 800.5,958.3 802.0,958.4 803.5,958.4 805.0,958.4 806.5,958.4 808.0,958.4 809.5,958.4 811.0,958.4 812.5,958.4 814.0,958.4 815.5,958.4 817.0,958.5 818.5,958.5 820.0,958.5 821.5,958.5 823.0,958.5 824.5,958.5 826.0,958.5 827.5,958.5 829.0,958.5 830.5,958.5 832.0,958.5 833.5,958.5 835.0,958.6 836.5,958.6 838.0,958.6 839.5,958.6 841.0,958.6 842.5,958.6 844.0,958.6 845.5,958.6 847.0,958.6 848.5,958.6 850.0,958.6 851.5,958.6 853.0,958.6 854.5,958.6 856.0,958.6 857.5,958.6 859.0,958.6 860.5,958.6 862.0,958.7 863.5,958.7 865.0,958.7 866.5,958.7 868.0,958.7 869.5,958.7 871.0,958.7 872.5,958.7 874.0,958.7 875.5,958.7 877.0,958.7 878.5,958.7 880.0,958.7 881.5,958.7 883.0,958.7 884.5,958.7 886.0,958.7 887.5,958.7 889.0,958.7 890.5,958.7 892.0,958.7 893.5,958.7 895.0,958.7 896.5,958.7 898.0,958.7 899.5,958.7 901.0,958.7 902.5,958.7 904.0,958.7 905.5,958.7 907.0,958.7 908.5,958.7 910.0,958.7 911.5,958.7 913.0,958.7 914.5,958.7 916.0,958.7 917.5,958.7 919.0,958.7 920.5,958.7 922.0,958.7 923.5,958.7 925.0,958.7 926.5,958.7 928.0,958.7 929.5,958.7 931.0,958.7 932.5,958.7 934.0,958.7 935.5,958.7 937.0,958.7 938.5,958.7 940.0,958.7 941.5,958.7 943.0,958.7 944.5,958.7 946.0,958.7 947.5,958.7 949.0,958.7 950.5,958.7 952.0,958.7 953.5,958.7 955.0,958.7 956.5,958.7 958.0,958.7 959.5,958.7 961.0,958.7 962.5,958.7 964.0,958.7 965.5,958.7 967.0,958.7 968.5,958.7 970.0,958.7 971.5,958.7 973.0,958.7 974.5,958.7 976.0,958.7 977.5,958.7 979.0,958.7 980.5,958.7 982.0,958.7 983.5,958.7 985.0,958.7 986.5,958.7 988.0,958.7 989.5,958.7 991.0,958.7 992.5,958.7 994.0,958.6 995.5,958.5 997.0,958.5 998.5,958.4 1000.0,958.3 1001.5,958.2 1003.0,958.1 1004.5,958.0 1006.0,957.9 1007.5,957.8 1009.0,957.7 1010.5,957.6 1012.0,957.5 1013.5,957.4 1015.0,957.3 1016.5,957.3 1018.0,957.2 1019.5,957.1 1021.0,957.0 1022.5,956.9 1024.0,956.8 1025.5,956.7 1027.0,956.6 1028.5,956.5 1030.0,956.4 1031.5,956.3 1033.0,956.2 1034.5,956.2 1036.0,956.1 1037.5,956.0 1039.0,955.9 1040.5,955.8 1042.0,955.7 1043.5,955.7 1045.0,955.6 1046.5,955.5 1048.0,955.4 1049.5,955.3 1051.0,955.2 1052.5,955.2 1054.0,955.1 1055.5,955.0 1057.0,954.9 1058.5,954.8 1060.0,954.7 1061.5,954.7 1063.0,954.6 1064.5,954.5 1066.0,954.5 1067.5,954.4 1069.0,954.4 1070.5,954.3 1072.0,954.3 1073.5,954.3 1075.0,954.3 1076.5,954.3 1078.0,954.3 1079.5,954.3 1081.0,954.3 1082.5,954.3 1084.0,954.3 1085.5,954.3 1087.0,954.3 1088.5,954.3 1090.0,954.3 1091.5,954.3 1093.0,954.3 1094.5,954.3 1096.0,954.3 1097.5,954.3 1099.0,954.3 1100.5,954.3 1102.0,954.4 1103.5,954.4 1105.0,954.5 1106.5,954.6 1108.0,954.7 1109.5,954.8 1111.0,954.9 1112.5,955.0 1114.0,955.1 1115.5,955.3 1117.0,955.4 1118.5,955.5 1120.0,955.6 1121.5,955.8 1123.0,955.9 1124.5,956.0 1126.0,956.1 1127.5,956.2 1129.0,956.3 1130.5,956.4 1132.0,956.5 1133.5,956.6 1135.0,956.7 1136.5,956.8 1138.0,956.9 1139.5,957.0 1141.0,957.1 1142.5,957.2 1144.0,957.3 1145.5,957.4 1147.0,957.5 1148.5,957.5 1150.0,957.6 1151.5,957.7 1153.0,957.7 1154.5,957.8 1156.0,957.8 1157.5,957.9 1159.0,957.9 1160.5,957.9 1162.0,958.0 1163.5,958.0 1165.0,958.0 1166.5,958.1 1168.0,958.1 1169.5,958.1 1171.0,958.1 1172.5,958.2 1174.0,958.2 1175.5,958.2 1177.0,958.2 1178.5,958.3 1180.0,958.3 1181.5,958.3 1183.0,958.3 1184.5,958.3 1186.0,958.4 1187.5,958.4 1189.0,958.4 1190.5,958.4 1192.0,958.4 1193.5,958.4 1195.0,958.4 1196.5,958.4 1198.0,958.4 1199.5,958.4 1201.0,958.4 1202.5,958.3 1204.0,958.3 1205.5,958.2 1207.0,958.2 1208.5,958.1 1210.0,958.1 1211.5,958.0 1213.0,957.9 1214.5,957.8 1216.0,957.7 1217.5,957.7 1219.0,957.6 1220.5,957.5 1222.0,957.3 1223.5,957.1 1225.0,956.9 1226.5,956.6 1228.0,956.3 1229.5,956.0 1231.0,955.7 1232.5,955.3 1234.0,955.0 1235.5,954.7 1237.0,954.3 1238.5,954.0 1240.0,953.7 1241.5,953.3 1243.0,952.9 1244.5,952.6 1246.0,952.2 1247.5,951.8 1249.0,951.4 1250.5,951.0 1252.0,950.6 1253.5,950.2 1255.0,949.8 1256.5,949.4 1258.0,949.1 1259.5,948.7 1261.0,948.3 1262.5,947.9 1264.0,947.5 1265.5,947.1 1267.0,946.7 1268.5,946.3 1270.0,945.9 1271.5,945.5 1273.0,945.1 1274.5,944.8 1276.0,944.5 1277.5,944.2 1279.0,943.9 1280.5,943.6 1282.0,943.3 1283.5,943.0 1285.0,942.7 1286.5,942.4 1288.0,942.2 1289.5,942.0 1291.0,941.9 1292.5,941.8 1294.0,941.7 1295.5,941.7 1297.0,941.7 1298.5,941.7 1300.0,941.7 1301.5,941.7 1303.0,941.7 1304.5,941.7 1306.0,941.7 1307.5,941.7 1309.0,941.7 1310.5,941.7 1312.0,941.7 1313.5,941.7 1315.0,941.7 1316.5,941.7 1318.0,941.8 1319.5,942.0 1321.0,942.2 1322.5,942.5 1324.0,942.9 1325.5,943.3 1327.0,943.7 1328.5,944.1 1330.0,944.6 1331.5,945.1 1333.0,945.5 1334.5,945.9 1336.0,946.3 1337.5,946.7 1339.0,947.2 1340.5,947.6 1342.0,948.1 1343.5,948.5 1345.0,949.0 1346.5,949.5 1348.0,949.9 1349.5,950.4 1351.0,950.8 1352.5,951.3 1354.0,951.7 1355.5,952.1 1357.0,952.5 1358.5,952.9 1360.0,953.3 1361.5,953.6 1363.0,954.0 1364.5,954.4 1366.0,954.8 1367.5,955.1 1369.0,955.4 1370.5,955.7 1372.0,956.0 1373.5,956.2 1375.0,956.4 1376.5,956.6 1378.0,956.7 1379.5,956.9 1381.0,957.0 1382.5,957.1 1384.0,957.3 1385.5,957.4 1387.0,957.5 1388.5,957.6 1390.0,957.7 1391.5,957.7 1393.0,957.8 1394.5,957.9 1396.0,958.0 1397.5,958.0 1399.0,958.1 1400.5,958.2 1402.0,958.2 1403.5,958.3 1405.0,958.3 1406.5,958.4 1408.0,958.5 1409.5,958.5 1411.0,958.5 1412.5,958.6 1414.0,958.6 1415.5,958.7 1417.0,958.7 1418.5,958.7 1420.0,958.7 1421.5,958.7 1423.0,958.7 1424.5,958.7 1426.0,958.7 1427.5,958.7 1429.0,958.7 1430.5,958.7 1432.0,958.7 1433.5,958.8 1435.0,958.8 1436.5,958.8 1438.0,958.8 1439.5,958.8 1441.0,958.8 1442.5,958.8 1444.0,958.8 1445.5,958.8 1447.0,958.8 1448.5,958.8 1450.0,958.8 1451.5,958.8 1453.0,958.8 1454.5,958.8 1456.0,958.8 1457.5,958.8 1459.0,958.8 1460.5,958.8 1462.0,958.8 1463.5,958.9 1465.0,958.9 1466.5,958.9 1468.0,958.9 1469.5,958.9 1471.0,958.9 1472.5,958.9 1474.0,958.9 1475.5,958.9 1477.0,958.9 1478.5,958.9 1480.0,958.9 1481.5,958.9 1483.0,958.9 1484.5,958.9 1486.0,958.9 1487.5,958.9 1489.0,958.9 1490.5,958.9 1492.0,958.9 1493.5,958.9 1495.0,958.9 1496.5,958.9 1498.0,958.9 1499.5,958.9 1501.0,958.9 1502.5,958.9 1504.0,958.9 1505.5,958.9 1507.0,958.9 1508.5,958.9 1510.0,958.9 1511.5,958.9 1513.0,959.0 1514.5,959.0 1516.0,959.0 1517.5,959.0 1519.0,959.0 1520.5,959.0 1522.0,959.0 1523.5,959.0 1525.0,959.0 1526.5,959.0 1528.0,959.0 1529.5,959.0 1531.0,959.0 1532.5,959.0 1534.0,959.0 1535.5,959.0 1537.0,959.0 1538.5,959.0 1540.0,959.0 1541.5,959.0 1543.0,959.0 1544.5,959.0 1546.0,959.0 1547.5,959.0 1549.0,959.0 1550.5,959.0 1552.0,959.0 1553.5,959.0 1555.0,959.0 1556.5,959.0 1558.0,959.0 1559.5,959.0 1561.0,959.0 1562.5,959.0 1564.0,959.0 1565.5,959.0 1567.0,959.0 1568.5,959.0 1570.0,959.0 1571.5,959.0 1573.0,959.0 1574.5,959.0 1576.0,959.0 1577.5,959.0 1579.0,959.0 1580.5,959.0 1582.0,959.0 1583.5,959.0 1585.0,959.0 1586.5,959.0 1588.0,959.0 1589.5,959.0 1591.0,959.0 1591.5,959.0"/>
<polyline stroke="#0000ff" points="298.0,959.5 299.5,959.5 301.0,959.5 302.5,959.5 304.0,959.4 305.5,959.4 307.0,959.4 308.5,959.4 310.0,959.4 311.5,959.4 313.0,959.4 314.5,959.4 316.0,959.3 317.5,959.3 319.0,959.3 320.5,959.3 322.0,959.3 323.5,959.3 325.0,959.3 326.5,959.3 328.0,959.2 329.5,959.2 331.0,959.2 332.5,959.2 334.0,959.2 335.5,959.2 337.0,959.2 338.5,959.2 340.0,959.1 341.5,959.1 343.0,959.1 344.5,959.1 346.0,959.1 347.5,959.1 349.0,959.1 350.5,959.1 352.0,959.0 353.5,959.0 355.0,959.0 356.5,959.0 358.0,959.0 359.5,959.0 361.0,959.0 362.5,959.0 364.0,958.9 365.5,958.9 367.0,958.9 368.5,958.9 370.0,958.9 371.5,958.9 373.0,958.9 374.5,958.9 376.0,958.9 377.5,958.8 379.0,958.8 380.5,958.8 382.0,958.8 383.5,958.8 385.0,958.8 386.5,958.8 388.0,958.8 389.5,958.7 391.0,958.7 392.5,958.7 394.0,958.7 395.5,958.7 397.0,958.7 398.5,958.7 400.0,958.7 401.5,958.7 403.0,958.6 404.5,958.6 406.0,958.6 407.5,958.6 409.0,958.6 410.5,958.6 412.0,958.6 413.5,958.6 415.0,958.6 416.5,958.5 418.0,958.5 419.5,958.5 421.0,958.5 422.5,958.5 424.0,958.5 425.5,958.5 427.0,958.5 428.5,958.5 430.0,958.5 431.5,958.4 433.0,958.4 434.5,958.4 436.0,958.4 437.5,958.4 439.0,958.4 440.5,958.4 442.0,958.4 443.5,958.4 445.0,958.4 446.5,958.3 448.0,958.3 449.5,958.3 451.0,958.3 452.5,958.3 454.0,958.3 455.5,958.3 457.0,958.3 458.5,958.3 460.0,958.3 461.5,958.2 463.0,958.2 464.5,958.2 466.0,958.2 467.5,958.2 469.0,958.2 470.5,958.2 472.0,958.2 473.5,958.2 475.0,958.2 476.5,958.1 478.0,958.1 479.5,958.1 481.0,958.1 482.5,958.1 484.0,958.1 485.5,958.1 487.0,958.1 488.5,958.1 490.0,958.1 491.5,958.1 493.0,958.0 494.5,958.0 496.0,958.0 497.5,958.0 499.0,958.0 500.5,958.0 502.0,958.0 503.5,958.0 505.0,958.0 506.5,958.0 508.0,957.9 509.5,957.9 511.0,957.9 512.5,957.9 514.0,957.9 515.5,957.9 517.0,957.9 518.5,957.9 520.0,957.9 521.5,957.9 523.0,957.8 524.5,957.8 526.0,957.8 527.5,957.8 529.0,957.8 530.5,957.8 532.0,957.8 533.5,957.8 535.0,957.8 536.5,957.8 538.0,957.7 539.5,957.7 541.0,957.7 542.5,957.7 544.0,957.7 545.5,957.7 547.0,957.7 548.5,957.7 550.0,957.7 551.5,957.7 553.0,957.6 554.5,957.6 556.0,957.6 557.5,957.6 559.0,957.6 560.5,957.6 562.0,957.6 563.5,957.6 565.0,957.6 566.5,957.6 568.0,957.6 569.5,957.6 571.0,957.6 572.5,957.5 574.0,957.5 575.5,957.5 577.0,957.5 578.5,957.5 580.0,957.5 581.5,957.5 583.0,957.5 584.5,957.5 586.0,957.5 587.5,957.5 589.0,957.5 590.5,957.5 592.0,957.5 593.5,957.5 595.0,957.5 596.5,957.5 598.0,957.5 599.5,957.5 601.0,957.5 602.5,957.5 604.0,957.5 605.5,957.5 607.0,957.5 608.5,957.5 610.0,957.5 611.5,957.5 613.0,957.5 614.5,957.5 616.0,957.5 617.5,957.5 619.0,957.5 620.5,957.5 622.0,957.5 623.5,957.6 625.0,957.6 626.5,957.6 628.0,957.6 629.5,957.6 631.0,957.6 632.5,957.6 634.0,957.6 635.5,957.6 637.0,957.6 638.5,957.6 640.0,957.6 641.5,957.6 643.0,957.7 644.5,957.7 646.0,957.7 647.5,957.7 649.0,957.7 650.5,957.7 652.0,957.7 653.5,957.7 655.0,957.7 656.5,957.7 658.0,957.8 659.5,957.8 661.0,957.8 662.5,957.8 664.0,957.8 665.5,957.8 667.0,957.8 668.5,957.8 670.0,957.8 671.5,957.9 673.0,957.9 674.5,957.9 676.0,957.9 677.5,957.9 679.0,957.9 680.5,957.9 682.0,958.0 683.5,958.0 685.0,958.0 686.5,958.0 688.0,958.0 689.5,958.0 691.0,958.0 692.5,958.1 694.0,958.1 695.5,958.1 697.0,958.1 698.5,958.1 700.0,958.1 701.5,958.2 703.0,958.2 704.5,958.2 706.0,958.2 707.5,958.2 709.0,958.2 710.5,958.3 712.0,958.3 713.5,958.3 715.0,958.3 716.5,958.3 718.0,958.3 719.5,958.4 721.0,958.4 722.5,958.4 724.0,958.4 725.5,958.4 727.0,958.4 728.5,958.5 730.0,958.5 731.5,958.5 733.0,958.5 734.5,958.5 736.0,958.5 737.5,958.6 739.0,958.6 740.5,958.6 742.0,958.6 743.5,958.6 745.0,958.7 746.5,958.7 748.0,958.7 749.5,958.7 751.0,958.7 752.5,958.7 754.0,958.8 755.5,958.8 757.0,958.8 758.5,958.8 760.0,958.8 761.5,958.8 763.0,958.9 764.5,958.9 766.0,958.9 767.5,958.9 769.0,958.9 770.5,959.0 772.0,959.0 773.5,959.0 775.0,959.0 776.5,959.0 778.0,959.0 779.5,959.1 781.0,959.1 782.5,959.1 784.0,959.1 785.5,959.1 787.0,959.1 788.5,959.2 790.0,959.2 791.5,959.2 793.0,959.2 794.5,959.2 796.0,959.2 797.5,959.3 799.0,959.3 800.5,959.3 802.0,959.3 803.5,959.3 805.0,959.3 806.5,959.4 808.0,959.4 809.5,959.4 811.0,959.4 812.5,959.4 814.0,959.4 815.5,959.5 817.0,959.5 818.5,959.5 820.0,959.5 821.5,959.5 823.0,959.5 824.5,959.5 826.0,959.6 827.5,959.6 829.0,959.6 830.5,959.6 832.0,959.6 833.5,959.6 835.0,959.6 836.5,959.7 838.0,959.7 839.5,959.7 841.0,959.7 842.5,959.7 844.0,959.7 845.5,959.7 847.0,959.7 848.5,959.8 850.0,959.8 851.5,959.8 853.0,959.8 854.5,959.8 856.0,959.8 857.5,959.8 859.0,959.8 860.5,959.8 862.0,959.8 863.5,959.9 865.0,959.9 866.5,959.9 868.0,959.9 869.5,959.9 871.0,959.9 872.5,959.9 874.0,959.9 875.5,959.9 877.0,959.9 878.5,959.9 880.0,959.9 881.5,960.0 883.0,960.0 884.5,960.0 886.0,960.0 887.5,960.0 889.0,960.0 890.5,960.0 892.0,960.0 893.5,960.0 895.0,960.0 896.5,960.0 898.0,960.0 899.5,960.0 901.0,960.0 902.5,960.0 904.0,960.0 905.5,960.0 907.0,960.0 908.5,960.0 910.0,960.0 911.5,960.0 913.0,960.0 914.5,960.0 916.0,960.0 917.5,960.0 919.0,960.1 920.5,960.1 922.0,960.1 923.5,960.1 925.0,960.1 926.5,960.1 928.0,960.1 929.5,960.1 931.0,960.1 932.5,960.1 934.0,960.1 935.5,960.1 937.0,960.1 938.5,960.1 940.0,960.1 941.5,960.1 943.0,960.1 944.5,960.1 946.0,960.1 947.5,960.1 949.0,960.1 950.5,960.1 952.0,960.1 953.5,960.1 955.0,960.1 956.5,960.1 958.0,960.1 959.5,960.1 961.0,960.1 962.5,960.1 964.0,960.1 965.5,960.1 967.0,960.2 968.5,960.2 970.0,960.2 971.5,960.2 973.0,960.2 974.5,960.2 976.0,960.2 977.5,960.2 979.0,960.2 980.5,960.2 982.0,960.2 983.5,960.2 985.0,960.2 986.5,960.2 988.0,960.2 989.5,960.2 991.0,960.2 992.5,960.2 994.0,960.2 995.5,960.2 997.0,960.2 998.5,960.2 1000.0,960.2 1001.5,960.2 1003.0,960.2 1004.5,960.2 1006.0,960.2 1007.5,960.2 1009.0,960.2 1010.5,960.2 1012.0,960.2 1013.5,960.2 1015.0,960.2 1016.5,960.2 1018.0,960.2 1019.5,960.2 1021.0,960.2 1022.5,960.3 1024.0,960.3 1025.5,960.3 1027.0,960.3 1028.5,960.3 1030.0,960.3 1031.5,960.3 1033.0,960.3 1034.5,960.3 1036.0,960.3 1037.5,960.3 1039.0,960.3 1040.5,960.3 1042.0,960.3 1043.5,960.3 1045.0,960.3 1046.5,960.3 1048.0,960.3 1049.5,960.3 1051.0,960.3 1052.5,960.3 1054.0,960.3 1055.5,960.3 1057.0,960.3 1058.5,960.3 1060.0,960.3 1061.5,960.3 1063.0,960.3 1064.5,960.3 1066.0,960.3 1067.5,960.3 1069.0,960.3 1070.5,960.3 1072.0,960.3 1073.5,960.3 1075.0,960.3 1076.5,960.3 1078.0,960.3 1079.5,960.3 1081.0,960.3 1082.5,960.3 1084.0,960.3 1085.5,960.3 1087.0,960.3 1088.5,960.3 1090.0,960.3 1091.5,960.3 1093.0,960.3 1094.5,960.3 1096.0,960.3 1097.5,960.3 1099.0,960.4 1100.5,960.4 1102.0,960.4 1103.5,960.4 1105.0,960.4 1106.5,960.4 1108.0,960.4 1109.5,960.4 1111.0,960.4 1112.5,960.4 1114.0,960.4 1115.5,960.4 1117.0,960.4 1118.5,960.4 1120.0,960.4 1121.5,960.4 1123.0,960.4 1124.5,960.4 1126.0,960.4 1127.5,960.4 1129.0,960.4 1130.5,960.4 1132.0,960.4 1133.5,960.4 1135.0,960.4 1136.5,960.4 1138.0,960.4 1139.5,960.4 1141.0,960.4 1142.5,960.4 1144.0,960.4 1145.5,960.4 1147.0,960.4 1148.5,960.4 1150.0,960.4 1151.5,960.4 1153.0,960.4 1154.5,960.4 1156.0,960.4 1157.5,960.4 1159.0,960.4 1160.5,960.4 1162.0,960.4 1163.5,960.4 1165.0,960.4 1166.5,960.4 1168.0,960.4 1169.5,960.4 1171.0,960.4 1172.5,960.4 1174.0,960.4 1175.5,960.4 1177.0,960.4 1178.5,960.4 1180.0,960.4 1181.5,960.4 1183.0,960.4 1184.5,960.4 1186.0,960.4 1187.5,960.4 1189.0,960.4 1190.5,960.4 1192.0,960.4 1193.5,960.4 1195.0,960.4 1196.5,960.4 1198.0,960.4 1199.5,960.4 1201.0,960.4 1202.5,960.4 1204.0,960.4 1205.5,960.4 1207.0,960.4 1208.5,960.4 1210.0,960.4 1211.5,960.4 1213.0,960.4 1214.5,960.4 1216.0,960.4 1217.5,960.4 1219.0,960.4 1220.5,960.4 1222.0,960.4 1223.5,960.4 1225.0,960.4 1226.5,960.4 1228.0,960.4 1229.5,960.4 1231.0,960.4 1232.5,960.4 1234.0,960.4 1235.5,960.4 1237.0,960.4 1238.5,960.4 1240.0,960.4 1241.5,960.4 1243.0,960.4 1244.5,960.4 1246.0,960.4 1247.5,960.4 1249.0,960.4 1250.5,960.4 1252.0,960.4 1253.5,960.4 1255.0,960.4 1256.5,960.4 1258.0,960.4 1259.5,960.4 1261.0,960.4 1262.5,960.4 1264.0,960.4 1265.5,960.4 1267.0,960.4 1268.5,960.4 1270.0,960.4 1271.5,960.4 1273.0,960.4 1274.5,960.4 1276.0,960.4 1277.5,960.4 1279.0,960.4 1280.5,960.4 1282.0,960.4 1283.5,960.4 1285.0,960.4 1286.5,960.4 1288.0,960.4 1289.5,960.4 1291.0,960.4 1292.5,960.4 1294.0,960.4 1295.5,960.4 1297.0,960.4 1298.5,960.4 1300.0,960.4 1301.5,960.4 1303.0,960.4 1304.5,960.4 1306.0,960.4 1307.5,960.4 1309.0,960.4 1310.5,960.4 1312.0,960.4 1313.5,960.4 1315.0,960.4 1316.5,960.4 1318.0,960.4 1319.5,960.4 1321.0,960.4 1322.5,960.4 1324.0,960.4 1325.5,960.4 1327.0,960.4 1328.5,960.4 1330.0,960.4 1331.5,960.4 1333.0,960.4 1334.5,960.4 1336.0,960.4 1337.5,960.4 1339.0,960.4 1340.5,960.4 1342.0,960.4 1343.5,960.4 1345.0,960.4 1346.5,960.4 1348.0,960.4 1349.5,960.4 1351.0,960.4 1352.5,960.3 1354.0,960.3 1355.5,960.3 1357.0,960.3 1358.5,960.3 1360.0,960.3 1361.5,960.3 1363.0,960.3 1364.5,960.3 1366.0,960.3 1367.5,960.3 1369.0,960.3 1370.5,960.3 1372.0,960.3 1373.5,960.3 1375.0,960.3 1376.5,960.3 1378.0,960.3 1379.5,960.3 1381.0,960.3 1382.5,960.3 1384.0,960.3 1385.5,960.3 1387.0,960.3 1388.5,960.3 1390.0,960.3 1391.5,960.3 1393.0,960.3 1394.5,960.3 1396.0,960.3 1397.5,960.3 1399.0,960.3 1400.5,960.3 1402.0,960.3 1403.5,960.3 1405.0,960.3 1406.5,960.3 1408.0,960.3 1409.5,960.3 1411.0,960.3 1412.5,960.3 1414.0,960.3 1415.5,960.3 1417.0,960.3 1418.5,960.3 1420.0,960.3 1421.5,960.3 1423.0,960.3 1424.5,960.3 1426.0,960.3 1427.5,960.3 1429.0,960.3 1430.5,960.3 1432.0,960.3 1433.5,960.3 1435.0,960.3 1436.5,960.3 1438.0,960.3 1439.5,960.3 1441.0,960.3 1442.5,960.3 1444.0,960.3 1445.5,960.3 1447.0,960.3 1448.5,960.3 1450.0,960.3 1451.5,960.3 1453.0,960.2 1454.5,960.2 1456.0,960.2 1457.5,960.2 1459.0,960.2 1460.5,960.2 1462.0,960.2 1463.5,960.2 1465.0,960.2 1466.5,960.2 1468.0,960.2 1469.5,960.2 1471.0,960.2 1472.5,960.2 1474.0,960.2 1475.5,960.2 1477.0,960.2 1478.5,960.2 1480.0,960.2 1481.5,960.2 1483.0,960.2 1484.5,960.2 1486.0,960.2 1487.5,960.2 1489.0,960.2 1490.5,960.2 1492.0,960.2 1493.5,960.2 1495.0,960.2 1496.5,960.2 1498.0,960.2 1499.5,960.2 1501.0,960.2 1502.5,960.2 1504.0,960.2 1505.5,960.2 1507.0,960.2 1508.5,960.2 1510.0,960.2 1511.5,960.2 1513.0,960.2 1514.5,960.2 1516.0,960.2 1517.5,960.2 1519.0,960.1 1520.5,960.1 1522.0,960.1 1523.5,960.1 1525.0,960.1 1526.5,960.1 1528.0,960.1 1529.5,960.1 1531.0,960.1 1532.5,960.1 1534.0,960.1 1535.5,960.1 1537.0,960.1 1538.5,960.1 1540.0,960.1 1541.5,960.1 1543.0,960.1 1544.5,960.1 1546.0,960.1 1547.5,960.1 1549.0,960.1 1550.5,960.1 1552.0,960.1 1553.5,960.1 1555.0,960.1 1556.5,960.1 1558.0,960.1 1559.5,960.1 1561.0,960.1 1562.5,960.1 1564.0,960.1 1565.5,960.1 1567.0,960.1 1568.5,960.1 1570.0,960.0 1571.5,960.0 1573.0,960.0 1574.5,960.0 1576.0,960.0 1577.5,960.0 1579.0,960.0 1580.5,960.0 1582.0,960.0 1583.5,960.0 1585.0,960.0 1586.5,960.0 1588.0,960.0 1589.5,960.0 1591.0,960.0 1591.5,960.0"/>
<polyline stroke="#00ffff" points="298.0,959.1 299.5,959.1 301.0,959.1 302.5,959.1 304.0,959.1 305.5,959.1 307.0,959.1 308.5,959.1 310.0,959.1 311.5,959.1 313.0,959.1 314.5,959.1 316.0,959.1 317.5,959.1 319.0,959.1 320.5,959.1 322.0,959.1 323.5,959.1 325.0,959.1 326.5,959.1 328.0,959.1 329.5,959.1 331.0,959.1 332.5,959.1 334.0,959.1 335.5,959.1 337.0,959.1 338.5,959.1 340.0,959.1 341.5,959.1 343.0,959.1 344.5,959.1 346.0,959.1 347.5,959.1 349.0,959.1 350.5,959.1 352.0,959.1 353.5,959.1 355.0,959.1 356.5,959.1 358.0,959.1 359.5,959.1 361.0,959.1 362.5,959.1 364.0,959.1 365.5,959.1 367.0,959.1 368.5,959.1 370.0,959.1 371.5,959.1 373.0,959.1 374.5,959.0 376.0,959.0 377.5,959.0 379.0,959.0 380.5,959.0 382.0,959.0 383.5,959.0 385.0,959.0 386.5,959.0 388.0,959.0 389.5,959.0 391.0,959.0 392.5,959.0 394.0,959.0 395.5,959.0 397.0,959.0 398.5,959.0 400.0,959.0 401.5,959.0 403.0,959.0 404.5,959.0 406.0,959.0 407.5,959.0 409.0,959.0 410.5,959.0 412.0,959.0 413.5,959.0 415.0,959.0 416.5,959.0 418.0,959.0 419.5,959.0 421.0,958.9 422.5,958.9 424.0,958.9 425.5,958.9 427.0,958.9 428.5,958.9 430.0,958.9 431.5,958.9 433.0,958.9 434.5,958.9 436.0,958.9 437.5,958.9 439.0,958.9 440.5,958.9 442.0,958.9 443.5,958.9 445.0,958.9 446.5,958.9 448.0,958.9 449.5,958.9 451.0,958.8 452.5,958.8 454.0,958.8 455.5,958.8 457.0,958.8 458.5,958.8 460.0,958.8 461.5,958.8 463.0,958.8 464.5,958.8 466.0,958.8 467.5,958.8 469.0,958.8 470.5,958.8 472.0,958.8 473.5,958.8 475.0,958.7 476.5,958.7 478.0,958.7 479.5,958.7 481.0,958.7 482.5,958.7 484.0,958.7 485.5,958.7 487.0,958.7 488.5,958.7 490.0,958.7 491.5,958.7 493.0,958.7 494.5,958.6 496.0,958.6 497.5,958.6 499.0,958.6 500.5,958.6 502.0,958.6 503.5,958.6 505.0,958.6 506.5,958.6 508.0,958.6 509.5,958.6 511.0,958.5 512.5,958.5 514.0,958.5 515.5,958.5 517.0,958.5 518.5,958.5 520.0,958.5 521.5,958.4 523.0,958.4 524.5,958.3 526.0,958.2 527.5,958.1 529.0,958.0 530.5,957.8 532.0,957.7 533.5,957.6 535.0,957.4 536.5,957.2 538.0,957.1 539.5,956.9 541.0,956.7 542.5,956.6 544.0,956.4 545.5,956.2 547.0,956.0 548.5,955.9 550.0,955.7 551.5,955.5 553.0,955.4 554.5,955.2 556.0,955.1 557.5,954.9 559.0,954.8 560.5,954.7 562.0,954.6 563.5,954.5 565.0,954.5 566.5,954.4 568.0,954.3 569.5,954.2 571.0,954.2 572.5,954.1 574.0,954.0 575.5,953.9 577.0,953.9 578.5,953.8 580.0,953.8 581.5,953.7 583.0,953.6 584.5,953.6 586.0,953.6 587.5,953.5 589.0,953.5 590.5,953.4 592.0,953.4 593.5,953.4 595.0,953.4 596.5,953.4 598.0,953.4 599.5,953.4 601.0,953.4 602.5,953.4 604.0,953.4 605.5,953.4 607.0,953.4 608.5,953.4 610.0,953.4 611.5,953.4 613.0,953.4 614.5,953.4 616.0,953.4 617.5,953.4 619.0,953.4 620.5,953.4 622.0,953.4 623.5,953.5 625.0,953.5 626.5,953.5 628.0,953.5 629.5,953.5 631.0,953.5 632.5,953.5 634.0,953.5 635.5,953.5 637.0,953.5 638.5,953.5 640.0,953.5 641.5,953.5 643.0,953.6 644.5,953.6 646.0,953.6 647.5,953.6 649.0,953.6 650.5,953.6 652.0,953.6 653.5,953.6 655.0,953.6 656.5,953.6 658.0,953.7 659.5,953.7 661.0,953.7 662.5,953.7 664.0,953.7 665.5,953.7 667.0,953.7 668.5,953.7 670.0,953.8 671.5,953.8 673.0,953.8 674.5,953.8 676.0,953.8 677.5,953.8 679.0,953.8 680.5,953.9 682.0,953.9 683.5,953.9 685.0,953.9 686.5,953.9 688.0,953.9 689.5,953.9 691.0,954.0 692.5,954.0 694.0,954.0 695.5,954.0 697.0,954.0 698.5,954.0 700.0,954.1 701.5,954.1 703.0,954.1 704.5,954.1 706.0,954.1 707.5,954.1 709.0,954.2 710.5,954.2 712.0,954.2 713.5,954.2 715.0,954.2 716.5,954.2 718.0,954.3 719.5,954.3 721.0,954.3 722.5,954.3 724.0,954.3 725.5,954.4 727.0,954.4 728.5,954.4 730.0,954.4 731.5,954.5 733.0,954.5 734.5,954.5 736.0,954.6 737.5,954.6 739.0,954.6 740.5,954.7 742.0,954.7 743.5,954.8 745.0,954.8 746.5,954.9 748.0,954.9 749.5,954.9 751.0,955.0 752.5,955.0 754.0,955.1 755.5,955.1 757.0,955.2 758.5,955.2 760.0,955.3 761.5,955.3 763.0,955.4 764.5,955.4 766.0,955.5 767.5,955.5 769.0,955.6 770.5,955.7 772.0,955.7 773.5,955.8 775.0,955.8 776.5,955.9 778.0,955.9 779.5,956.0 781.0,956.0 782.5,956.1 784.0,956.1 785.5,956.2 787.0,956.3 788.5,956.3 790.0,956.4 791.5,956.4 793.0,956.5 794.5,956.5 796.0,956.6 797.5,956.6 799.0,956.7 800.5,956.7 802.0,956.8 803.5,956.8 805.0,956.8 806.5,956.9 808.0,956.9 809.5,957.0 811.0,957.0 812.5,957.0 814.0,957.1 815.5,957.1 817.0,957.2 818.5,957.2 820.0,957.3 821.5,957.3 823.0,957.3 824.5,957.4 826.0,957.4 827.5,957.5 829.0,957.5 830.5,957.6 832.0,957.6 833.5,957.7 835.0,957.7 836.5,957.8 838.0,957.8 839.5,957.9 841.0,957.9 842.5,958.0 844.0,958.0 845.5,958.0 847.0,958.1 848.5,958.1 850.0,958.2 851.5,958.2 853.0,958.3 854.5,958.3 856.0,958.4 857.5,958.4 859.0,958.4 860.5,958.5 862.0,958.5 863.5,958.6 865.0,958.6 866.5,958.6 868.0,958.7 869.5,958.7 871.0,958.7 872.5,958.8 874.0,958.8 875.5,958.8 877.0,958.8 878.5,958.9 880.0,958.9 881.5,958.9 883.0,958.9 884.5,958.9 886.0,959.0 887.5,959.0 889.0,959.0 890.5,959.0 892.0,959.0 893.5,959.0 895.0,959.0 896.5,959.0 898.0,959.0 899.5,959.0 901.0,959.0 902.5,959.0 904.0,959.0 905.5,959.0 907.0,959.0 908.5,959.0 910.0,959.0 911.5,959.0 913.0,959.0 914.5,959.0 916.0,959.0 917.5,959.0 919.0,959.0 920.5,959.0 922.0,959.0 923.5,959.0 925.0,959.0 926.5,959.0 928.0,959.0 929.5,959.0 931.0,959.0 932.5,959.0 934.0,959.0 935.5,959.0 937.0,959.0 938.5,959.0 940.0,959.0 941.5,959.0 943.0,959.0 944.5,959.0 946.0,959.0 947.5,959.0 949.0,959.0 950.5,959.0 952.0,959.0 953.5,959.0 955.0,959.0 956.5,959.0 958.0,959.0 959.5,959.0 961.0,959.0 962.5,959.0 964.0,959.0 965.5,959.0 967.0,959.0 968.5,959.0 970.0,959.0 971.5,959.0 973.0,959.0 974.5,959.0 976.0,959.0 977.5,959.0 979.0,959.0 980.5,959.0 982.0,959.0 983.5,959.0 985.0,959.0 986.5,959.0 988.0,959.0 989.5,959.0 991.0,959.0 992.5,959.0 994.0,959.0 995.5,959.0 997.0,959.0 998.5,959.0 1000.0,959.0 1001.5,959.0 1003.0,959.0 1004.5,959.0 1006.0,959.0 1007.5,959.0 1009.0,959.0 1010.5,959.0 1012.0,959.0 1013.5,959.0 1015.0,959.0 1016.5,959.0 1018.0,959.0 1019.5,959.0 1021.0,959.0 1022.5,959.0 1024.0,959.0 1025.5,959.0 1027.0,959.0 1028.5,959.0 1030.0,959.0 1031.5,959.0 1033.0,959.0 1034.5,959.0 1036.0,959.0 1037.5,959.0 1039.0,959.0 1040.5,959.0 1042.0,959.0 1043.5,959.0 1045.0,959.0 1046.5,959.0 1048.0,959.0 1049.5,959.0 1051.0,959.0 1052.5,959.0 1054.0,959.0 1055.5,959.0 1057.0,959.0 1058.5,959.0 1060.0,959.0 1061.5,959.0 1063.0,959.0 1064.5,959.0 1066.0,959.0 1067.5,959.0 1069.0,959.0 1070.5,959.0 1072.0,959.0 1073.5,959.0 1075.0,959.0 1076.5,959.0 1078.0,959.0 1079.5,959.0 1081.0,959.0 1082.5,959.0 1084.0,959.0 1085.5,959.0 1087.0,959.0 1088.5,959.0 1090.0,959.0 1091.5,958.9 1093.0,958.6 1094.5,958.1 1096.0,957.7 1097.5,957.3 1099.0,957.1 1100.5,957.0 1102.0,957.0 1103.5,957.0 1105.0,957.0 1106.5,957.0 1108.0,957.0 1109.5,957.0 1111.0,957.0 1112.5,957.0 1114.0,957.0 1115.5,957.1 1117.0,957.1 1118.5,957.1 1120.0,957.1 1121.5,957.1 1123.0,957.1 1124.5,957.1 1126.0,957.1 1127.5,957.2 1129.0,957.2 1130.5,957.2 1132.0,957.2 1133.5,957.2 1135.0,957.2 1136.5,957.3 1138.0,957.3 1139.5,957.3 1141.0,957.3 1142.5,957.3 1144.0,957.4 1145.5,957.4 1147.0,957.4 1148.5,957.4 1150.0,957.4 1151.5,957.4 1153.0,957.5 1154.5,957.5 1156.0,957.5 1157.5,957.5 1159.0,957.5 1160.5,957.6 1162.0,957.6 1163.5,957.6 1165.0,957.6 1166.5,957.6 1168.0,957.6 1169.5,957.7 1171.0,957.7 1172.5,957.7 1174.0,957.7 1175.5,957.7 1177.0,957.7 1178.5,957.7 1180.0,957.7 1181.5,957.8 1183.0,957.8 1184.5,957.8 1186.0,957.8 1187.5,957.8 1189.0,957.8 1190.5,957.8 1192.0,957.8 1193.5,957.8 1195.0,957.8 1196.5,957.8 1198.0,957.8 1199.5,957.8 1201.0,957.8 1202.5,957.7 1204.0,957.7 1205.5,957.7 1207.0,957.7 1208.5,957.6 1210.0,957.6 1211.5,957.5 1213.0,957.5 1214.5,957.4 1216.0,957.3 1217.5,957.3 1219.0,957.2 1220.5,957.1 1222.0,957.0 1223.5,957.0 1225.0,956.8 1226.5,956.6 1228.0,956.4 1229.5,956.2 1231.0,955.8 1232.5,955.5 1234.0,955.1 1235.5,954.7 1237.0,954.3 1238.5,953.8 1240.0,953.2 1241.5,952.5 1243.0,951.6 1244.5,950.7 1246.0,949.7 1247.5,948.7 1249.0,947.6 1250.5,946.5 1252.0,945.3 1253.5,944.0 1255.0,942.6 1256.5,941.1 1258.0,939.4 1259.5,937.6 1261.0,935.6 1262.5,933.2 1264.0,930.6 1265.5,927.6 1267.0,924.4 1268.5,921.0 1270.0,917.5 1271.5,913.9 1273.0,910.0 1274.5,905.8 1276.0,901.3 1277.5,896.6 1279.0,891.8 1280.5,886.7 1282.0,881.5 1283.5,875.9 1285.0,870.1 1286.5,864.1 1288.0,858.1 1289.5,852.1 1291.0,846.0 1292.5,839.8 1294.0,833.5 1295.5,827.2 1297.0,820.8 1298.5,814.4 1300.0,807.9 1301.5,801.5 1303.0,795.1 1304.5,788.5 1306.0,781.7 1307.5,774.8 1309.0,767.5 1310.5,759.8 1312.0,751.8 1313.5,743.5 1315.0,735.2 1316.5,727.2 1318.0,719.5 1319.5,711.9 1321.0,704.3 1322.5,696.9 1324.0,689.7 1325.5,682.8 1327.0,676.3 1328.5,670.2 1330.0,664.4 1331.5,658.8 1333.0,653.4 1334.5,648.3 1336.0,643.6 1337.5,639.3 1339.0,635.4 1340.5,631.8 1342.0,628.4 1343.5,625.3 1345.0,622.6 1346.5,620.2 1348.0,617.8 1349.5,615.5 1351.0,613.6 1352.5,612.5 1354.0,612.4 1355.5,612.5 1357.0,612.6 1358.5,612.8 1360.0,613.0 1361.5,613.4 1363.0,614.7 1364.5,617.4 1366.0,621.0 1367.5,625.0 1369.0,629.0 1370.5,633.0 1372.0,637.4 1373.5,642.3 1375.0,647.5 1376.5,653.0 1378.0,659.0 1379.5,665.5 1381.0,672.4 1382.5,679.5 1384.0,686.6 1385.5,694.0 1387.0,701.6 1388.5,709.3 1390.0,717.0 1391.5,724.5 1393.0,732.1 1394.5,739.7 1396.0,746.9 1397.5,753.6 1399.0,760.1 1400.5,766.3 1402.0,772.4 1403.5,778.3 1405.0,783.9 1406.5,789.5 1408.0,795.2 1409.5,801.0 1411.0,807.0 1412.5,813.6 1414.0,820.4 1415.5,827.4 1417.0,834.2 1418.5,840.7 1420.0,846.6 1421.5,852.2 1423.0,857.5 1424.5,862.6 1426.0,867.5 1427.5,872.2 1429.0,876.7 1430.5,881.0 1432.0,885.2 1433.5,889.2 1435.0,893.0 1436.5,896.6 1438.0,899.9 1439.5,902.9 1441.0,905.8 1442.5,908.5 1444.0,911.1 1445.5,913.5 1447.0,915.8 1448.5,918.1 1450.0,920.2 1451.5,922.3 1453.0,924.3 1454.5,926.2 1456.0,927.9 1457.5,929.5 1459.0,931.0 1460.5,932.5 1462.0,933.8 1463.5,935.1 1465.0,936.4 1466.5,937.6 1468.0,938.7 1469.5,939.8 1471.0,940.8 1472.5,941.7 1474.0,942.7 1475.5,943.6 1477.0,944.4 1478.5,945.2 1480.0,946.0 1481.5,946.8 1483.0,947.5 1484.5,948.2 1486.0,948.9 1487.5,949.6 1489.0,950.2 1490.5,950.8 1492.0,951.4 1493.5,952.0 1495.0,952.5 1496.5,952.9 1498.0,953.4 1499.5,953.8 1501.0,954.2 1502.5,954.6 1504.0,955.0 1505.5,955.3 1507.0,955.6 1508.5,955.9 1510.0,956.2 1511.5,956.4 1513.0,956.6 1514.5,956.8 1516.0,957.0 1517.5,957.2 1519.0,957.4 1520.5,957.6 1522.0,957.7 1523.5,957.9 1525.0,958.0 1526.5,958.1 1528.0,958.2 1529.5,958.2 1531.0,958.3 1532.5,958.3 1534.0,958.3 1535.5,958.4 1537.0,958.4 1538.5,958.4 1540.0,958.5 1541.5,958.5 1543.0,958.5 1544.5,958.6 1546.0,958.6 1547.5,958.6 1549.0,958.6 1550.5,958.7 1552.0,958.7 1553.5,958.7 1555.0,958.7 1556.5,958.8 1558.0,958.8 1559.5,958.8 1561.0,958.8 1562.5,958.8 1564.0,958.9 1565.5,958.9 1567.0,958.9 1568.5,958.9 1570.0,958.9 1571.5,958.9 1573.0,958.9 1574.5,958.9 1576.0,959.0 1577.5,959.0 1579.0,959.0 1580.5,959.0 1582.0,959.0 1583.5,959.0 1585.0,959.0 1586.5,959.0 1588.0,959.0 1589.5,959.0 1591.0,959.0 1591.5,959.0"/>
<polyline stroke="#ff00ff" points="298.7,955.2 300.2,955.1 301.7,955.0 303.2,955.0 304.7,954.9 306.2,954.8 307.7,954.7 309.2,954.6 310.7,954.6 312.2,954.5 313.7,954.4 315.2,954.3 316.7,954.2 318.2,954.2 319.7,954.1 321.2,954.0 322.7,953.9 324.2,953.8 325.7,953.8 327.2,953.7 328.7,953.6 330.2,953.5 331.7,953.5 333.2,953.4 334.7,953.3 336.2,953.2 337.7,953.1 339.2,953.1 340.7,953.0 342.2,952.9 343.7,952.8 345.2,952.8 346.7,952.7 348.2,952.6 349.7,952.5 351.2,952.4 352.7,952.4 354.2,952.3 355.7,952.2 357.2,952.1 358.7,952.1 360.2,952.0 361.7,951.9 363.2,951.8 364.7,951.7 366.2,951.7 367.7,951.6 369.2,951.5 370.7,951.4 372.2,951.4 373.7,951.3 375.2,951.2 376.7,951.2 378.2,951.1 379.7,951.0 381.2,951.0 382.7,950.9 384.2,950.9 385.7,950.8 387.2,950.7 388.7,950.6 390.2,950.6 391.7,950.5 393.2,950.4 394.7,950.3 396.2,950.3 397.7,950.2 399.2,950.1 400.7,950.0 402.2,949.9 403.7,949.8 405.2,949.7 406.7,949.5 408.2,949.4 409.7,949.3 411.2,949.2 412.7,949.0 414.2,948.9 415.7,948.7 417.2,948.5 418.7,948.4 420.2,948.2 421.7,948.0 423.2,947.7 424.7,947.5 426.2,947.3 427.7,947.0 429.2,946.8 430.7,946.5 432.2,946.2 433.7,945.8 435.2,945.3 436.7,944.8 438.2,944.2 439.7,943.6 441.2,942.8 442.7,942.1 444.2,941.2 445.7,940.4 447.2,939.5 448.7,938.6 450.2,937.5 451.7,936.4 453.2,935.1 454.7,933.7 456.2,932.3 457.7,930.7 459.2,929.1 460.7,927.3 462.2,925.5 463.7,923.6 465.2,921.7 466.7,919.5 468.2,917.0 469.7,914.4 471.2,911.7 472.7,908.7 474.2,905.7 475.7,902.4 477.2,898.9 478.7,895.0 480.2,891.0 481.7,886.8 483.2,882.6 484.7,878.4 486.2,874.2 487.7,869.9 489.2,865.5 490.7,860.9 492.2,856.1 493.7,851.0 495.2,845.5 496.7,839.7 498.2,833.8 499.7,827.8 501.2,822.0 502.7,816.4 504.2,810.9 505.7,805.5 507.2,799.9 508.7,794.1 510.2,787.9 511.7,781.5 513.2,774.9 514.7,768.2 516.2,761.4 517.7,754.4 519.2,747.5 520.7,740.7 522.2,734.1 523.7,727.6 525.2,721.2 526.7,715.0 528.2,708.9 529.7,702.9 531.2,697.0 532.7,691.2 534.2,685.7 535.7,680.6 537.2,675.7 538.7,671.1 540.2,666.7 541.7,662.6 543.2,658.7 544.7,655.0 546.2,651.5 547.7,648.2 549.2,645.2 550.7,642.5 552.2,639.7 553.7,637.2 555.2,635.0 556.7,633.5 558.2,632.3 559.7,631.3 561.2,630.4 562.7,629.6 564.2,629.1 565.7,628.9 567.2,629.1 568.7,629.8 570.2,630.9 571.7,632.1 573.2,633.5 574.7,635.3 576.2,637.6 577.7,640.4 579.2,643.4 580.7,646.6 582.2,649.8 583.7,653.2 585.2,656.7 586.7,660.6 588.2,664.7 589.7,669.1 591.2,673.9 592.7,679.1 594.2,684.6 595.7,690.2 597.2,695.8 598.7,701.8 600.2,707.9 601.7,714.1 603.2,720.2 604.7,726.2 606.2,732.2 607.7,738.2 609.2,744.1 610.7,750.0 612.2,755.9 613.7,761.7 615.2,767.2 616.7,772.3 618.2,777.1 619.7,781.7 621.2,786.1 622.7,790.4 624.2,794.6 625.7,798.8 627.2,803.0 628.7,807.2 630.2,811.5 631.7,815.8 633.2,819.9 634.7,823.8 636.2,827.3 637.7,830.7 639.2,834.0 640.7,837.0 642.2,840.0 643.7,842.8 645.2,845.4 646.7,847.9 648.2,850.2 649.7,852.5 651.2,854.7 652.7,856.8 654.2,858.7 655.7,860.6 657.2,862.4 658.7,864.0 660.2,865.6 661.7,867.1 663.2,868.5 664.7,869.9 666.2,871.2 667.7,872.4 669.2,873.5 670.7,874.5 672.2,875.4 673.7,876.2 675.2,877.0 676.7,877.8 678.2,878.5 679.7,879.2 681.2,879.8 682.7,880.4 684.2,880.9 685.7,881.4 687.2,881.8 688.7,882.2 690.2,882.6 691.7,882.9 693.2,883.2 694.7,883.6 696.2,883.9 697.7,884.1 699.2,884.4 700.7,884.6 702.2,884.8 703.7,885.1 705.2,885.2 706.7,885.4 708.2,885.6 709.7,885.8 711.2,885.9 712.7,886.0 714.2,886.2 715.7,886.3 717.2,886.4 718.7,886.6 720.2,886.7 721.7,886.8 723.2,887.0 724.7,887.1 726.2,887.2 727.7,887.4 729.2,887.6 730.7,887.8 732.2,888.0 733.7,888.2 735.2,888.4 736.7,888.6 738.2,888.8 739.7,889.1 741.2,889.3 742.7,889.6 744.2,889.8 745.7,890.1 747.2,890.4 748.7,890.6 750.2,890.9 751.7,891.2 753.2,891.5 754.7,891.8 756.2,892.0 757.7,892.3 759.2,892.6 760.7,892.9 762.2,893.3 763.7,893.6 765.2,893.9 766.7,894.3 768.2,894.6 769.7,895.0 771.2,895.3 772.7,895.7 774.2,896.0 775.7,896.4 777.2,896.8 778.7,897.1 780.2,897.5 781.7,897.9 783.2,898.3 784.7,898.6 786.2,899.0 787.7,899.4 789.2,899.8 790.7,900.1 792.2,900.5 793.7,900.9 795.2,901.3 796.7,901.7 798.2,902.1 799.7,902.5 801.2,902.9 802.7,903.3 804.2,903.7 805.7,904.1 807.2,904.5 808.7,904.9 810.2,905.3 811.7,905.7 813.2,906.0 814.7,906.4 816.2,906.8 817.7,907.2 819.2,907.6 820.7,907.9 822.2,908.3 823.7,908.7 825.2,909.1 826.7,909.4 828.2,909.8 829.7,910.2 831.2,910.6 832.7,911.0 834.2,911.3 835.7,911.7 837.2,912.1 838.7,912.5 840.2,912.9 841.7,913.3 843.2,913.7 844.7,914.1 846.2,914.5 847.7,914.9 849.2,915.3 850.7,915.7 852.2,916.2 853.7,916.6 855.2,917.0 856.7,917.4 858.2,917.8 859.7,918.2 861.2,918.6 862.7,919.0 864.2,919.4 865.7,919.8 867.2,920.2 868.7,920.5 870.2,920.9 871.7,921.3 873.2,921.7 874.7,922.1 876.2,922.4 877.7,922.8 879.2,923.2 880.7,923.6 882.2,923.9 883.7,924.3 885.2,924.7 886.7,925.1 888.2,925.4 889.7,925.8 891.2,926.2 892.7,926.6 894.2,926.9 895.7,927.3 897.2,927.7 898.7,928.1 900.2,928.5 901.7,928.9 903.2,929.3 904.7,929.6 906.2,930.0 907.7,930.4 909.2,930.8 910.7,931.2 912.2,931.6 913.7,932.0 915.2,932.4 916.7,932.8 918.2,933.2 919.7,933.5 921.2,933.9 922.7,934.3 924.2,934.7 925.7,935.0 927.2,935.4 928.7,935.7 930.2,936.0 931.7,936.4 933.2,936.7 934.7,937.0 936.2,937.3 937.7,937.7 939.2,938.0 940.7,938.3 942.2,938.6 943.7,938.9 945.2,939.2 946.7,939.5 948.2,939.7 949.7,940.0 951.2,940.3 952.7,940.6 954.2,940.9 955.7,941.1 957.2,941.4 958.7,941.7 960.2,941.9 961.7,942.2 963.2,942.5 964.7,942.7 966.2,943.0 967.7,943.2 969.2,943.5 970.7,943.7 972.2,944.0 973.7,944.2 975.2,944.5 976.7,944.7 978.2,944.9 979.7,945.2 981.2,945.4 982.7,945.6 984.2,945.9 985.7,946.1 987.2,946.3 988.7,946.5 990.2,946.7 991.7,946.8 993.2,947.0 994.7,947.1 996.2,947.3 997.7,947.4 999.2,947.6 1000.7,947.7 1002.2,947.9 1003.7,948.0 1005.2,948.1 1006.7,948.2 1008.2,948.3 1009.7,948.4 1011.2,948.4 1012.7,948.4 1014.2,948.4 1015.7,948.4 1017.2,948.4 1018.7,948.4 1020.2,948.4 1021.7,948.4 1023.2,948.4 1024.7,948.4 1026.2,948.4 1027.7,948.4 1029.2,948.4 1030.7,948.4 1032.2,948.4 1033.7,948.4 1035.2,948.4 1036.7,948.4 1038.2,948.4 1039.7,948.4 1041.2,948.4 1042.7,948.4 1044.2,948.4 1045.7,948.4 1047.2,948.4 1048.7,948.4 1050.2,948.4 1051.7,948.4 1053.2,948.4 1054.7,948.4 1056.2,948.3 1057.7,948.3 1059.2,948.2 1060.7,948.1 1062.2,948.0 1063.7,947.8 1065.2,947.7 1066.7,947.5 1068.2,947.4 1069.7,947.2 1071.2,947.1 1072.7,946.9 1074.2,946.8 1075.7,946.6 1077.2,946.5 1078.7,946.3 1080.2,946.1 1081.7,945.9 1083.2,945.7 1084.7,945.5 1086.2,945.3 1087.7,945.1 1089.2,945.0 1090.7,944.8 1092.2,944.7 1093.7,944.6 1095.2,944.5 1096.7,944.4 1098.2,944.4 1099.7,944.4 1101.2,944.4 1102.7,944.4 1104.2,944.4 1105.7,944.4 1107.2,944.4 1108.7,944.4 1110.2,944.4 1111.7,944.4 1113.2,944.4 1114.7,944.4 1116.2,944.4 1117.7,944.4 1119.2,944.4 1120.7,944.4 1122.2,944.4 1123.7,944.4 1125.2,944.4 1126.7,944.4 1128.2,944.5 1129.7,944.6 1131.2,944.7 1132.7,944.9 1134.2,945.1 1135.7,945.3 1137.2,945.5 1138.7,945.7 1140.2,945.9 1141.7,946.1 1143.2,946.3 1144.7,946.5 1146.2,946.7 1147.7,946.8 1149.2,947.0 1150.7,947.2 1152.2,947.4 1153.7,947.5 1155.2,947.7 1156.7,947.9 1158.2,948.0 1159.7,948.2 1161.2,948.4 1162.7,948.6 1164.2,948.7 1165.7,948.9 1167.2,949.1 1168.7,949.3 1170.2,949.4 1171.7,949.6 1173.2,949.8 1174.7,950.0 1176.2,950.1 1177.7,950.3 1179.2,950.5 1180.7,950.7 1182.2,950.9 1183.7,951.1 1185.2,951.2 1186.7,951.4 1188.2,951.6 1189.7,951.8 1191.2,952.0 1192.7,952.1 1194.2,952.3 1195.7,952.5 1197.2,952.6 1198.7,952.8 1200.2,952.9 1201.7,953.1 1203.2,953.3 1204.7,953.4 1206.2,953.6 1207.7,953.7 1209.2,953.8 1210.7,954.0 1212.2,954.1 1213.7,954.3 1215.2,954.4 1216.7,954.6 1218.2,954.7 1219.7,954.9 1221.2,955.1 1222.7,955.2 1224.2,955.4 1225.7,955.5 1227.2,955.7 1228.7,955.8 1230.2,956.0 1231.7,956.1 1233.2,956.2 1234.7,956.3 1236.2,956.4 1237.7,956.4 1239.2,956.5 1240.7,956.5 1242.2,956.6 1243.7,956.6 1245.2,956.7 1246.7,956.7 1248.2,956.8 1249.7,956.8 1251.2,956.9 1252.7,956.9 1254.2,957.0 1255.7,957.0 1257.2,957.0 1258.7,957.1 1260.2,957.1 1261.7,957.2 1263.2,957.2 1264.7,957.2 1266.2,957.2 1267.7,957.3 1269.2,957.3 1270.7,957.3 1272.2,957.4 1273.7,957.4 1275.2,957.4 1276.7,957.4 1278.2,957.4 1279.7,957.5 1281.2,957.5 1282.7,957.5 1284.2,957.5 1285.7,957.5 1287.2,957.5 1288.7,957.5 1290.2,957.5 1291.7,957.5 1293.2,957.5 1294.7,957.6 1296.2,957.6 1297.7,957.6 1299.2,957.6 1300.7,957.6 1302.2,957.6 1303.7,957.6 1305.2,957.6 1306.7,957.6 1308.2,957.6 1309.7,957.6 1311.2,957.6 1312.7,957.6 1314.2,957.6 1315.7,957.6 1317.2,957.6 1318.7,957.7 1320.2,957.7 1321.7,957.7 1323.2,957.7 1324.7,957.7 1326.2,957.7 1327.7,957.7 1329.2,957.7 1330.7,957.7 1332.2,957.7 1333.7,957.7 1335.2,957.7 1336.7,957.7 1338.2,957.7 1339.7,957.7 1341.2,957.7 1342.7,957.7 1344.2,957.7 1345.7,957.7 1347.2,957.7 1348.7,957.7 1350.2,957.7 1351.7,957.7 1353.2,957.7 1354.7,957.8 1356.2,957.8 1357.7,957.8 1359.2,957.8 1360.7,957.8 1362.2,957.8 1363.7,957.8 1365.2,957.8 1366.7,957.8 1368.2,957.8 1369.7,957.8 1371.2,957.8 1372.7,957.8 1374.2,957.8 1375.7,957.9 1377.2,957.9 1378.7,957.9 1380.2,957.9 1381.7,957.9 1383.2,957.9 1384.7,957.9 1386.2,957.9 1387.7,957.9 1389.2,957.9 1390.7,958.0 1392.2,958.0 1393.7,958.0 1395.2,958.0 1396.7,958.0 1398.2,958.0 1399.7,958.0 1401.2,958.1 1402.7,958.1 1404.2,958.1 1405.7,958.1 1407.2,958.1 1408.7,958.1 1410.2,958.1 1411.7,958.1 1413.2,958.2 1414.7,958.2 1416.2,958.2 1417.7,958.2 1419.2,958.2 1420.7,958.2 1422.2,958.2 1423.7,958.3 1425.2,958.3 1426.7,958.3 1428.2,958.3 1429.7,958.3 1431.2,958.3 1432.7,958.3 1434.2,958.4 1435.7,958.4 1437.2,958.4 1438.7,958.4 1440.2,958.4 1441.7,958.4 1443.2,958.4 1444.7,958.4 1446.2,958.5 1447.7,958.5 1449.2,958.5 1450.7,958.5 1452.2,958.5 1453.7,958.5 1455.2,958.5 1456.7,958.5 1458.2,958.6 1459.7,958.6 1461.2,958.6 1462.7,958.6 1464.2,958.6 1465.7,958.6 1467.2,958.6 1468.7,958.6 1470.2,958.6 1471.7,958.6 1473.2,958.6 1474.7,958.6 1476.2,958.7 1477.7,958.7 1479.2,958.7 1480.7,958.7 1482.2,958.7 1483.7,958.7 1485.2,958.7 1486.7,958.7 1488.2,958.7 1489.7,958.7 1491.2,958.7 1492.7,958.7 1494.2,958.7 1495.7,958.7 1497.2,958.7 1498.7,958.7 1500.2,958.7 1501.7,958.7 1503.2,958.7 1504.7,958.7 1506.2,958.7 1507.7,958.7 1509.2,958.7 1510.7,958.7 1512.2,958.7 1513.7,958.7 1515.2,958.7 1516.7,958.7 1518.2,958.7 1519.7,958.7 1521.2,958.7 1522.7,958.7 1524.2,958.7 1525.7,958.7 1527.2,958.7 1528.7,958.7 1530.2,958.7 1531.7,958.7 1533.2,958.7 1534.7,958.7 1536.2,958.7 1537.7,958.7 1539.2,958.7 1540.7,958.7 1542.2,958.7 1543.7,958.7 1545.2,958.7 1546.7,958.7 1548.2,958.7 1549.7,958.7 1551.2,958.7 1552.7,958.7 1554.2,958.6 1555.7,958.6 1557.2,958.6 1558.7,958.6 1560.2,958.6 1561.7,958.6 1563.2,958.6 1564.7,958.6 1566.2,958.6 1567.7,958.6 1569.2,958.6 1570.7,958.6 1572.2,958.6 1573.7,958.6 1575.2,958.6 1576.7,958.6 1578.2,958.6 1579.7,958.6 1581.2,958.6 1582.7,958.5 1584.2,958.5 1585.7,958.5 1587.2,958.5 1588.7,958.5 1590.2,958.5 1591.5,958.5"/>
<polyline stroke="#0000ff" points="298.7,887.2 300.2,886.5 301.7,885.8 303.2,885.1 304.7,884.5 306.2,883.9 307.7,883.4 309.2,882.9 310.7,882.5 312.2,882.1 313.7,881.8 315.2,881.6 316.7,881.4 318.2,881.3 319.7,881.3 321.2,881.4 322.7,881.5 324.2,881.7 325.7,882.0 327.2,882.3 328.7,882.6 330.2,882.9 331.7,883.2 333.2,883.5 334.7,883.8 336.2,883.9 337.7,884.1 339.2,884.1 340.7,884.1 342.2,884.1 343.7,884.1 345.2,884.1 346.7,884.1 348.2,884.1 349.7,884.1 351.2,884.1 352.7,884.1 354.2,884.1 355.7,884.1 357.2,883.9 358.7,883.6 360.2,883.1 361.7,882.6 363.2,882.1 364.7,881.5 366.2,880.9 367.7,880.2 369.2,879.4 370.7,878.5 372.2,877.6 373.7,876.7 375.2,875.7 376.7,874.8 378.2,873.9 379.7,872.9 381.2,871.9 382.7,870.8 384.2,869.7 385.7,868.6 387.2,867.5 388.7,866.4 390.2,865.4 391.7,864.4 393.2,863.6 394.7,862.9 396.2,862.2 397.7,861.6 399.2,861.1 400.7,860.6 402.2,860.2 403.7,859.7 405.2,859.3 406.7,858.8 408.2,858.3 409.7,857.8 411.2,857.2 412.7,856.6 414.2,856.0 415.7,855.3 417.2,854.5 418.7,853.8 420.2,853.0 421.7,852.2 423.2,851.3 424.7,850.5 426.2,849.6 427.7,848.7 429.2,847.8 430.7,846.9 432.2,846.0 433.7,845.1 435.2,844.2 436.7,843.3 438.2,842.3 439.7,841.3 441.2,840.3 442.7,839.3 444.2,838.2 445.7,837.1 447.2,835.8 448.7,834.4 450.2,833.0 451.7,831.6 453.2,830.3 454.7,829.0 456.2,827.8 457.7,826.7 459.2,825.7 460.7,824.7 462.2,823.7 463.7,822.7 465.2,821.8 466.7,820.9 468.2,820.0 469.7,819.2 471.2,818.5 472.7,817.8 474.2,817.2 475.7,816.6 477.2,816.1 478.7,815.6 480.2,815.2 481.7,814.8 483.2,814.4 484.7,814.0 486.2,813.6 487.7,813.3 489.2,812.9 490.7,812.5 492.2,812.2 493.7,811.8 495.2,811.3 496.7,810.9 498.2,810.5 499.7,810.1 501.2,809.6 502.7,809.2 504.2,808.8 505.7,808.5 507.2,808.2 508.7,807.9 510.2,807.7 511.7,807.5 513.2,807.3 514.7,807.2 516.2,807.0 517.7,806.9 519.2,806.7 520.7,806.6 522.2,806.5 523.7,806.4 525.2,806.4 526.7,806.3 528.2,806.3 529.7,806.3 531.2,806.3 532.7,806.4 534.2,806.4 535.7,806.5 537.2,806.5 538.7,806.6 540.2,806.7 541.7,806.7 543.2,806.9 544.7,807.0 546.2,807.2 547.7,807.5 549.2,807.7 550.7,807.9 552.2,808.2 553.7,808.4 555.2,808.6 556.7,808.8 558.2,808.9 559.7,809.0 561.2,809.0 562.7,809.0 564.2,809.0 565.7,809.0 567.2,809.0 568.7,808.9 570.2,808.9 571.7,808.9 573.2,808.8 574.7,808.8 576.2,808.8 577.7,808.7 579.2,808.7 580.7,808.6 582.2,808.5 583.7,808.4 585.2,808.3 586.7,808.2 588.2,808.1 589.7,808.0 591.2,807.8 592.7,807.7 594.2,807.6 595.7,807.4 597.2,807.3 598.7,807.0 600.2,806.8 601.7,806.5 603.2,806.2 604.7,805.8 606.2,805.5 607.7,805.2 609.2,805.0 610.7,804.8 612.2,804.6 613.7,804.5 615.2,804.5 616.7,804.4 618.2,804.4 619.7,804.4 621.2,804.4 622.7,804.3 624.2,804.3 625.7,804.3 627.2,804.3 628.7,804.3 630.2,804.4 631.7,804.6 633.2,804.8 634.7,805.2 636.2,805.5 637.7,805.9 639.2,806.3 640.7,806.7 642.2,807.1 643.7,807.6 645.2,808.2 646.7,808.8 648.2,809.5 649.7,810.2 651.2,810.8 652.7,811.5 654.2,812.2 655.7,812.8 657.2,813.3 658.7,813.8 660.2,814.3 661.7,814.7 663.2,815.0 664.7,815.4 666.2,815.7 667.7,816.0 669.2,816.4 670.7,816.7 672.2,817.1 673.7,817.5 675.2,817.9 676.7,818.4 678.2,818.9 679.7,819.5 681.2,820.2 682.7,821.0 684.2,821.8 685.7,822.6 687.2,823.4 688.7,824.2 690.2,825.0 691.7,825.8 693.2,826.6 694.7,827.3 696.2,828.0 697.7,828.7 699.2,829.4 700.7,830.0 702.2,830.7 703.7,831.4 705.2,832.0 706.7,832.7 708.2,833.4 709.7,834.0 711.2,834.8 712.7,835.5 714.2,836.3 715.7,837.1 717.2,837.9 718.7,838.7 720.2,839.6 721.7,840.5 723.2,841.3 724.7,842.2 726.2,843.0 727.7,843.8 729.2,844.6 730.7,845.3 732.2,846.1 733.7,846.8 735.2,847.5 736.7,848.1 738.2,848.8 739.7,849.5 741.2,850.1 742.7,850.8 744.2,851.5 745.7,852.1 747.2,852.8 748.7,853.5 750.2,854.3 751.7,855.0 753.2,855.7 754.7,856.4 756.2,857.2 757.7,857.9 759.2,858.7 760.7,859.4 762.2,860.2 763.7,860.9 765.2,861.7 766.7,862.5 768.2,863.2 769.7,864.0 771.2,864.7 772.7,865.5 774.2,866.3 775.7,867.1 777.2,867.8 778.7,868.6 780.2,869.3 781.7,870.1 783.2,870.8 784.7,871.5 786.2,872.2 787.7,872.9 789.2,873.6 790.7,874.3 792.2,874.9 793.7,875.6 795.2,876.2 796.7,876.9 798.2,877.5 799.7,878.2 801.2,878.9 802.7,879.6 804.2,880.3 805.7,881.0 807.2,881.7 808.7,882.4 810.2,883.1 811.7,883.9 813.2,884.5 814.7,885.2 816.2,885.9 817.7,886.5 819.2,887.1 820.7,887.6 822.2,888.1 823.7,888.6 825.2,889.1 826.7,889.5 828.2,889.9 829.7,890.4 831.2,890.8 832.7,891.2 834.2,891.6 835.7,892.0 837.2,892.4 838.7,892.8 840.2,893.2 841.7,893.5 843.2,893.9 844.7,894.2 846.2,894.5 847.7,894.9 849.2,895.2 850.7,895.6 852.2,896.0 853.7,896.4 855.2,896.9 856.7,897.5 858.2,898.1 859.7,898.8 861.2,899.6 862.7,900.4 864.2,901.3 865.7,902.1 867.2,902.9 868.7,903.7 870.2,904.7 871.7,905.7 873.2,906.7 874.7,907.7 876.2,908.4 877.7,909.0 879.2,909.3 880.7,909.5 882.2,909.7 883.7,909.9 885.2,910.0 886.7,910.2 888.2,910.3 889.7,910.4 891.2,910.5 892.7,910.5 894.2,910.6 895.7,910.6 897.2,910.6 898.7,910.4 900.2,910.1 901.7,909.7 903.2,909.3 904.7,908.8 906.2,908.2 907.7,907.6 909.2,907.0 910.7,906.4 912.2,905.9 913.7,905.3 915.2,904.8 916.7,904.4 918.2,904.0 919.7,903.7 921.2,903.3 922.7,902.9 924.2,902.6 925.7,902.2 927.2,901.9 928.7,901.6 930.2,901.3 931.7,901.0 933.2,900.8 934.7,900.7 936.2,900.6 937.7,900.6 939.2,900.6 940.7,900.7 942.2,900.7 943.7,900.8 945.2,900.9 946.7,901.0 948.2,901.1 949.7,901.2 951.2,901.3 952.7,901.4 954.2,901.5 955.7,901.6 957.2,901.7 958.7,901.8 960.2,901.9 961.7,902.0 963.2,902.1 964.7,902.2 966.2,902.3 967.7,902.4 969.2,902.4 970.7,902.5 972.2,902.6 973.7,902.7 975.2,902.9 976.7,903.0 978.2,903.1 979.7,903.2 981.2,903.4 982.7,903.5 984.2,903.7 985.7,903.8 987.2,904.1 988.7,904.3 990.2,904.7 991.7,905.0 993.2,905.4 994.7,905.8 996.2,906.2 997.7,906.6 999.2,906.9 1000.7,907.2 1002.2,907.5 1003.7,907.8 1005.2,908.0 1006.7,908.2 1008.2,908.4 1009.7,908.6 1011.2,908.8 1012.7,908.9 1014.2,909.1 1015.7,909.2 1017.2,909.2 1018.7,909.2 1020.2,909.2 1021.7,909.2 1023.2,909.2 1024.7,909.2 1026.2,909.2 1027.7,909.2 1029.2,909.2 1030.7,909.2 1032.2,909.2 1033.7,909.2 1035.2,909.2 1036.7,909.2 1038.2,909.2 1039.7,909.2 1041.2,909.2 1042.7,909.2 1044.2,909.1 1045.7,909.0 1047.2,908.7 1048.7,908.3 1050.2,907.9 1051.7,907.5 1053.2,907.0 1054.7,906.6 1056.2,906.2 1057.7,905.8 1059.2,905.5 1060.7,905.1 1062.2,904.7 1063.7,904.3 1065.2,903.9 1066.7,903.5 1068.2,903.1 1069.7,902.8 1071.2,902.4 1072.7,902.0 1074.2,901.7 1075.7,901.3 1077.2,901.0 1078.7,900.6 1080.2,900.2 1081.7,899.9 1083.2,899.5 1084.7,899.2 1086.2,898.9 1087.7,898.6 1089.2,898.3 1090.7,898.1 1092.2,898.0 1093.7,897.8 1095.2,897.7 1096.7,897.6 1098.2,897.5 1099.7,897.4 1101.2,897.4 1102.7,897.4 1104.2,897.6 1105.7,897.8 1107.2,898.0 1108.7,898.4 1110.2,898.7 1111.7,899.1 1113.2,899.6 1114.7,900.3 1116.2,901.1 1117.7,901.9 1119.2,902.8 1120.7,903.6 1122.2,904.4 1123.7,905.1 1125.2,905.7 1126.7,906.1 1128.2,906.6 1129.7,907.0 1131.2,907.4 1132.7,907.8 1134.2,908.1 1135.7,908.5 1137.2,908.7 1138.7,909.0 1140.2,909.3 1141.7,909.6 1143.2,909.9 1144.7,910.2 1146.2,910.4 1147.7,910.7 1149.2,910.9 1150.7,911.0 1152.2,911.2 1153.7,911.3 1155.2,911.3 1156.7,911.3 1158.2,911.3 1159.7,911.3 1161.2,911.3 1162.7,911.3 1164.2,911.3 1165.7,911.3 1167.2,911.3 1168.7,911.3 1170.2,911.3 1171.7,911.3 1173.2,911.3 1174.7,911.2 1176.2,911.2 1177.7,911.2 1179.2,911.1 1180.7,911.1 1182.2,911.0 1183.7,911.0 1185.2,910.9 1186.7,910.8 1188.2,910.8 1189.7,910.7 1191.2,910.6 1192.7,910.6 1194.2,910.5 1195.7,910.4 1197.2,910.3 1198.7,910.2 1200.2,910.0 1201.7,909.9 1203.2,909.7 1204.7,909.5 1206.2,909.4 1207.7,909.3 1209.2,909.2 1210.7,909.2 1212.2,909.3 1213.7,909.4 1215.2,909.6 1216.7,909.8 1218.2,910.1 1219.7,910.4 1221.2,910.8 1222.7,911.1 1224.2,911.5 1225.7,911.8 1227.2,912.2 1228.7,912.5 1230.2,912.8 1231.7,913.1 1233.2,913.3 1234.7,913.6 1236.2,913.9 1237.7,914.1 1239.2,914.4 1240.7,914.7 1242.2,914.9 1243.7,915.2 1245.2,915.4 1246.7,915.7 1248.2,915.9 1249.7,916.0 1251.2,916.2 1252.7,916.2 1254.2,916.3 1255.7,916.3 1257.2,916.2 1258.7,915.9 1260.2,915.6 1261.7,915.2 1263.2,914.7 1264.7,914.2 1266.2,913.7 1267.7,913.2 1269.2,912.7 1270.7,912.3 1272.2,911.9 1273.7,911.5 1275.2,911.2 1276.7,910.8 1278.2,910.4 1279.7,910.1 1281.2,909.7 1282.7,909.4 1284.2,909.1 1285.7,908.9 1287.2,908.7 1288.7,908.6 1290.2,908.6 1291.7,908.5 1293.2,908.5 1294.7,908.4 1296.2,908.4 1297.7,908.4 1299.2,908.4 1300.7,908.3 1302.2,908.3 1303.7,908.3 1305.2,908.3 1306.7,908.3 1308.2,908.3 1309.7,908.5 1311.2,908.7 1312.7,908.9 1314.2,909.3 1315.7,909.6 1317.2,910.1 1318.7,910.5 1320.2,910.9 1321.7,911.4 1323.2,911.8 1324.7,912.2 1326.2,912.6 1327.7,913.0 1329.2,913.4 1330.7,913.9 1332.2,914.4 1333.7,914.9 1335.2,915.4 1336.7,915.8 1338.2,916.3 1339.7,916.8 1341.2,917.2 1342.7,917.6 1344.2,918.0 1345.7,918.4 1347.2,918.8 1348.7,919.3 1350.2,919.7 1351.7,920.1 1353.2,920.4 1354.7,920.8 1356.2,921.1 1357.7,921.3 1359.2,921.6 1360.7,921.7 1362.2,921.8 1363.7,921.9 1365.2,922.0 1366.7,922.1 1368.2,922.2 1369.7,922.2 1371.2,922.3 1372.7,922.4 1374.2,922.4 1375.7,922.5 1377.2,922.5 1378.7,922.6 1380.2,922.7 1381.7,922.8 1383.2,922.8 1384.7,922.9 1386.2,923.0 1387.7,923.1 1389.2,923.1 1390.7,923.2 1392.2,923.2 1393.7,923.3 1395.2,923.3 1396.7,923.3 1398.2,923.3 1399.7,923.3 1401.2,923.3 1402.7,923.2 1404.2,923.2 1405.7,923.2 1407.2,923.1 1408.7,923.1 1410.2,923.0 1411.7,923.0 1413.2,922.9 1414.7,922.8 1416.2,922.8 1417.7,922.7 1419.2,922.6 1420.7,922.5 1422.2,922.4 1423.7,922.3 1425.2,922.2 1426.7,922.0 1428.2,921.7 1429.7,921.2 1431.2,920.8 1432.7,920.3 1434.2,919.8 1435.7,919.3 1437.2,918.9 1438.7,918.7 1440.2,918.4 1441.7,918.2 1443.2,918.0 1444.7,917.8 1446.2,917.6 1447.7,917.4 1449.2,917.3 1450.7,917.2 1452.2,917.2 1453.7,917.2 1455.2,917.2 1456.7,917.2 1458.2,917.2 1459.7,917.2 1461.2,917.2 1462.7,917.2 1464.2,917.2 1465.7,917.2 1467.2,917.2 1468.7,917.2 1470.2,917.2 1471.7,917.3 1473.2,917.5 1474.7,917.7 1476.2,918.0 1477.7,918.4 1479.2,918.7 1480.7,919.1 1482.2,919.4 1483.7,919.8 1485.2,920.1 1486.7,920.4 1488.2,920.8 1489.7,921.2 1491.2,921.6 1492.7,922.0 1494.2,922.4 1495.7,922.8 1497.2,923.2 1498.7,923.6 1500.2,923.9 1501.7,924.3 1503.2,924.6 1504.7,924.8 1506.2,925.1 1507.7,925.4 1509.2,925.6 1510.7,925.9 1512.2,926.2 1513.7,926.4 1515.2,926.6 1516.7,926.8 1518.2,926.9 1519.7,927.0 1521.2,927.1 1522.7,927.1 1524.2,927.1 1525.7,927.1 1527.2,927.1 1528.7,927.1 1530.2,927.1 1531.7,927.1 1533.2,927.1 1534.7,927.1 1536.2,927.1 1537.7,927.0 1539.2,926.8 1540.7,926.6 1542.2,926.2 1543.7,925.8 1545.2,925.3 1546.7,924.8 1548.2,924.4 1549.7,924.0 1551.2,923.7 1552.7,923.3 1554.2,923.0 1555.7,922.7 1557.2,922.4 1558.7,922.0 1560.2,921.7 1561.7,921.4 1563.2,921.1 1564.7,920.9 1566.2,920.6 1567.7,920.4 1569.2,920.2 1570.7,920.0 1572.2,919.8 1573.7,919.6 1575.2,919.5 1576.7,919.3 1578.2,919.1 1579.7,919.0 1581.2,918.8 1582.7,918.7 1584.2,918.6 1585.7,918.4 1587.2,918.3 1588.7,918.2 1590.2,918.2 1591.5,918.1"/>
</g>
<rect x="911.5" y="79.5" width="536" height="466" fill="#fff" stroke="#000" stroke-width="1" shape-rendering="crispEdges"/>
<g shape-rendering="crispEdges">
<rect x="974" y="147" width="86" height="1" fill="#000000"/>
<rect x="974" y="204" width="86" height="1" fill="#ff0000"/>
<rect x="974" y="261" width="86" height="1" fill="#008000"/>
<rect x="974" y="317" width="86" height="1" fill="#0000ff"/>
<rect x="974" y="364" width="86" height="1" fill="#00ffff"/>
<rect x="974" y="421" width="86" height="1" fill="#ff00ff"/>
<rect x="974" y="477" width="86" height="1" fill="#0000ff"/>
</g>
<g filter="url(#crisp)">
<text class="ytick" x="233.2" y="979.1" fill="#000000">0</text>
<text class="ytick" x="201.2" y="725.1" fill="#000000">50</text>
<text class="ytick" x="169.2" y="471.2" fill="#000000">100</text>
<text class="ytick" x="169.2" y="216.1" fill="#000000">150</text>
<text class="xtick" x="359.2" y="1065.5" fill="#000000">17.8</text>
<text class="xtick" x="594.3" y="1065.5" fill="#000000">18.0</text>
<text class="xtick" x="829.9" y="1065.5" fill="#000000">18.2</text>
<text class="xtick" x="1064.0" y="1065.5" fill="#000000">18.4</text>
<text class="xtick" x="1299.6" y="1065.5" fill="#000000">18.6</text>
<text class="xtick" x="1534.7" y="1065.5" fill="#000000">18.8</text>
<text class="ttl" x="29.7" y="577.0" fill="#000000">mAU</text>
<text class="ttli" transform="translate(798.6,1134.0) scale(1.03,1.05)" x="0" y="0" fill="#000000">t</text>
<text class="ttl2" transform="translate(842.7,1133.3) scale(1.09,0.95)" x="0" y="0" fill="#000000">/</text>
<text class="ttl2" x="885.7" y="1134.0" fill="#000000">min</text>
<text class="pk" x="552.4" y="106.1" fill="#ff0000">17.962</text>
<text class="pk" x="508.1" y="597.0" fill="#ff00ff">17.927</text>
<text class="pk" x="786.7" y="709.0" fill="#ff0000">18.152</text>
<text class="pk" x="1079.5" y="591.8" fill="#ff0000">18.415</text>
<text class="pk" x="1306.2" y="589.9" fill="#00ffff">18.600</text>
<text class="pk" x="1321.4" y="713.8" fill="#ff0000">18.614</text>
<text class="pk" x="530.1" y="779.0" fill="#0000ff">17.976</text>
<text class="pk" x="525.4" y="853.7" fill="#000000">17.957</text>
<text class="pk" x="511.9" y="919.6" fill="#008000">17.913</text>
<text class="pk" x="1316.2" y="812.0" fill="#000000">18.613</text>
<text class="pk" x="1284.9" y="929.2" fill="#008000">18.558</text>
<text fill="#000000"><tspan class="lg" x="1071.1" y="160.0">dA</tspan><tspan class="sub" x="1118.0" y="171.9">10</tspan><tspan class="lg" x="1146.3" y="160.0">dT</tspan><tspan class="sub" x="1191.8" y="171.9">10 </tspan><tspan class="lg" x="1229.8" y="160.0">+ </tspan><tspan class="lgb" x="1263.0" y="160.0">2</tspan></text>
<text fill="#000000"><tspan class="lg" x="1071.1" y="217.0">dA</tspan><tspan class="sub" x="1118.0" y="228.9">10</tspan><tspan class="lg" x="1146.3" y="217.0">dT</tspan><tspan class="sub" x="1191.8" y="228.9">10 </tspan><tspan class="lg" x="1229.8" y="217.0">+ </tspan><tspan class="lgb" x="1263.0" y="217.0">2 </tspan><tspan class="lg" x="1292.8" y="217.0">60 </tspan><tspan class="lg" x="1347.2" y="217.0">h</tspan><tspan class="nu" x="1369.3" y="217.0">ν</tspan></text>
<text fill="#000000"><tspan class="lg" x="1071.1" y="274.0">dA</tspan><tspan class="sub" x="1118.0" y="285.9">10</tspan><tspan class="lg" x="1146.3" y="274.0">dT</tspan><tspan class="sub" x="1191.8" y="285.9">10 </tspan><tspan class="lg" x="1229.8" y="274.0">+ </tspan><tspan class="lgb" x="1263.0" y="274.0">2 </tspan><tspan class="lg" x="1294.7" y="274.0">15 </tspan><tspan class="lg" x="1347.0" y="274.0">h</tspan><tspan class="nu" x="1369.2" y="274.0">ν</tspan></text>
<text fill="#000000"><tspan class="lgb" x="1071.0" y="331.0">2</tspan></text>
<text fill="#000000"><tspan class="lg" x="1071.1" y="377.0">dA</tspan><tspan class="sub" x="1118.0" y="388.9">10</tspan><tspan class="lg" x="1146.3" y="377.0">dT</tspan><tspan class="sub" x="1191.8" y="388.9">10 </tspan></text>
<text fill="#000000"><tspan class="lg" x="1071.1" y="434.0">dA</tspan><tspan class="sub" x="1118.0" y="445.9">10</tspan><tspan class="lg" x="1146.3" y="434.0">dT</tspan><tspan class="sub" x="1191.8" y="445.9">10 </tspan><tspan class="lg" x="1228.9" y="434.0">60h</tspan><tspan class="nu" x="1294.8" y="434.0">ν</tspan></text>
<text fill="#000000"><tspan class="lgb" x="1071.0" y="490.0">2 </tspan><tspan class="lg" x="1101.7" y="490.0">30x</tspan></text>
</g>
</svg>
</body>
</html>
